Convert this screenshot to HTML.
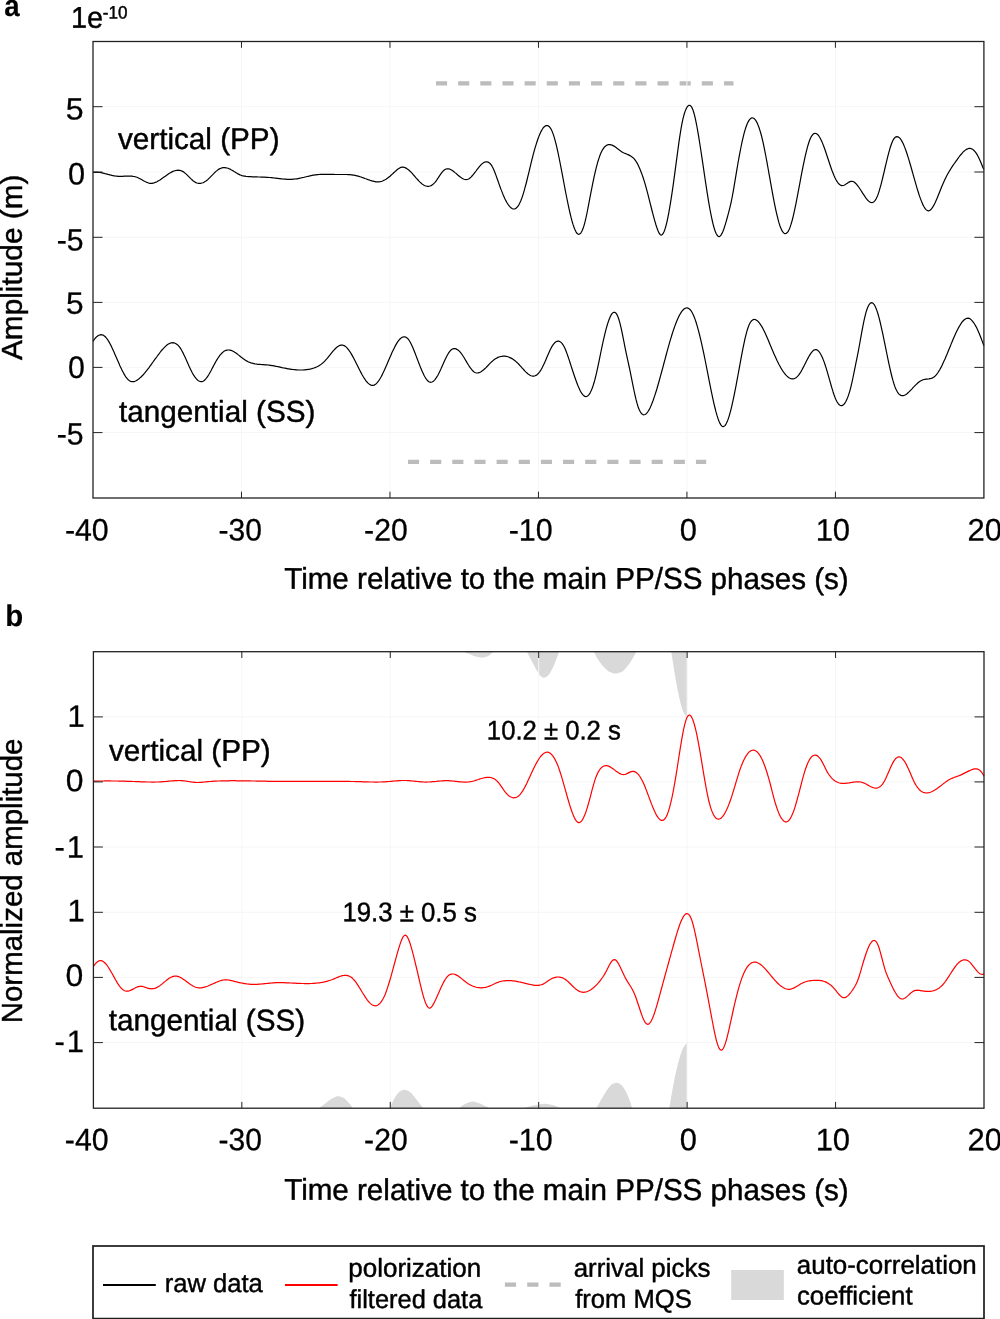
<!DOCTYPE html>
<html lang="en"><head><meta charset="utf-8"><title>Figure</title>
<style>html,body{margin:0;padding:0;background:#fff}svg{display:block;will-change:transform}</style></head>
<body>
<svg width="1000" height="1319" viewBox="0 0 1000 1319" font-family="Liberation Sans, Arial, Helvetica, sans-serif" fill="#000">
<rect width="1000" height="1319" fill="#fff"/>
<path d="M436 83.4 H733.5" stroke="#bcbcbc" stroke-width="4.3" stroke-dasharray="11.1 11.05" fill="none"/>
<path d="M408 461.8 H706.2" stroke="#bcbcbc" stroke-width="4.3" stroke-dasharray="11.1 11.05" fill="none"/>
<path d="M241.48 41.5 V498.0 M389.97 41.5 V498.0 M538.45 41.5 V498.0 M686.93 41.5 V498.0 M835.42 41.5 V498.0 M93.0 106.7 H983.9 M93.0 172.0 H983.9 M93.0 237.3 H983.9 M93.0 302.4 H983.9 M93.0 367.4 H983.9 M93.0 432.6 H983.9" stroke="#f6f6f6" stroke-width="1" fill="none"/>
<path d="M93.0 172.5 L94.0 172.4 L95.0 172.3 L96.0 172.2 L97.0 172.3 L98.0 172.3 L99.0 172.4 L100.0 172.5 L101.0 172.7 L102.0 172.9 L103.0 173.1 L104.0 173.3 L105.0 173.6 L106.0 173.8 L107.0 174.1 L108.0 174.4 L109.0 174.6 L110.0 174.9 L111.0 175.1 L112.0 175.4 L113.0 175.6 L114.0 175.8 L115.0 176.0 L116.0 176.1 L117.0 176.2 L118.0 176.3 L119.0 176.3 L120.0 176.3 L121.0 176.3 L122.0 176.3 L123.0 176.3 L124.0 176.2 L125.0 176.2 L126.0 176.1 L127.0 176.1 L128.0 176.1 L129.0 176.1 L130.0 176.1 L131.0 176.2 L132.0 176.2 L133.0 176.4 L134.0 176.5 L135.0 176.7 L136.0 177.0 L137.0 177.3 L138.0 177.7 L139.0 178.2 L140.0 178.7 L141.0 179.2 L142.0 179.8 L143.0 180.4 L144.0 181.0 L145.0 181.5 L146.0 182.0 L147.0 182.4 L148.0 182.8 L149.0 183.1 L150.0 183.3 L151.0 183.3 L152.0 183.3 L153.0 183.1 L154.0 182.9 L155.0 182.5 L156.0 182.1 L157.0 181.7 L158.0 181.1 L159.0 180.5 L160.0 179.9 L161.0 179.2 L162.0 178.5 L163.0 177.8 L164.0 177.1 L165.0 176.4 L166.0 175.7 L167.0 175.0 L168.0 174.3 L169.0 173.6 L170.0 173.0 L171.0 172.4 L172.0 171.9 L173.0 171.4 L174.0 171.0 L175.0 170.7 L176.0 170.5 L177.0 170.3 L178.0 170.2 L179.0 170.3 L180.0 170.4 L181.0 170.7 L182.0 171.1 L183.0 171.6 L184.0 172.3 L185.0 173.1 L186.0 173.9 L187.0 174.9 L188.0 175.9 L189.0 176.9 L190.0 177.9 L191.0 178.9 L192.0 179.8 L193.0 180.7 L194.0 181.4 L195.0 182.1 L196.0 182.6 L197.0 183.0 L198.0 183.3 L199.0 183.4 L200.0 183.4 L201.0 183.3 L202.0 183.0 L203.0 182.7 L204.0 182.2 L205.0 181.6 L206.0 181.0 L207.0 180.2 L208.0 179.4 L209.0 178.4 L210.0 177.4 L211.0 176.4 L212.0 175.4 L213.0 174.4 L214.0 173.3 L215.0 172.3 L216.0 171.4 L217.0 170.6 L218.0 169.8 L219.0 169.1 L220.0 168.6 L221.0 168.2 L222.0 167.9 L223.0 167.7 L224.0 167.6 L225.0 167.6 L226.0 167.8 L227.0 168.0 L228.0 168.3 L229.0 168.7 L230.0 169.1 L231.0 169.7 L232.0 170.2 L233.0 170.8 L234.0 171.5 L235.0 172.1 L236.0 172.7 L237.0 173.3 L238.0 173.9 L239.0 174.4 L240.0 174.9 L241.0 175.2 L242.0 175.6 L243.0 175.8 L244.0 176.1 L245.0 176.2 L246.0 176.4 L247.0 176.5 L248.0 176.6 L249.0 176.6 L250.0 176.7 L251.0 176.7 L252.0 176.8 L253.0 176.8 L254.0 176.9 L255.0 176.9 L256.0 176.9 L257.0 176.9 L258.0 177.0 L259.0 177.0 L260.0 177.0 L261.0 177.1 L262.0 177.1 L263.0 177.1 L264.0 177.2 L265.0 177.2 L266.0 177.3 L267.0 177.3 L268.0 177.4 L269.0 177.5 L270.0 177.5 L271.0 177.6 L272.0 177.7 L273.0 177.8 L274.0 178.0 L275.0 178.1 L276.0 178.2 L277.0 178.3 L278.0 178.4 L279.0 178.6 L280.0 178.7 L281.0 178.8 L282.0 178.9 L283.0 179.0 L284.0 179.1 L285.0 179.2 L286.0 179.2 L287.0 179.3 L288.0 179.3 L289.0 179.3 L290.0 179.3 L291.0 179.3 L292.0 179.3 L293.0 179.2 L294.0 179.2 L295.0 179.0 L296.0 178.9 L297.0 178.8 L298.0 178.6 L299.0 178.4 L300.0 178.2 L301.0 178.0 L302.0 177.7 L303.0 177.5 L304.0 177.3 L305.0 177.0 L306.0 176.8 L307.0 176.5 L308.0 176.3 L309.0 176.1 L310.0 175.8 L311.0 175.6 L312.0 175.4 L313.0 175.2 L314.0 175.1 L315.0 174.9 L316.0 174.8 L317.0 174.7 L318.0 174.6 L319.0 174.5 L320.0 174.4 L321.0 174.4 L322.0 174.3 L323.0 174.3 L324.0 174.3 L325.0 174.3 L326.0 174.3 L327.0 174.3 L328.0 174.3 L329.0 174.3 L330.0 174.4 L331.0 174.4 L332.0 174.4 L333.0 174.4 L334.0 174.4 L335.0 174.5 L336.0 174.5 L337.0 174.5 L338.0 174.5 L339.0 174.5 L340.0 174.5 L341.0 174.5 L342.0 174.5 L343.0 174.5 L344.0 174.5 L345.0 174.5 L346.0 174.5 L347.0 174.5 L348.0 174.6 L349.0 174.6 L350.0 174.7 L351.0 174.8 L352.0 174.9 L353.0 175.1 L354.0 175.2 L355.0 175.4 L356.0 175.6 L357.0 175.8 L358.0 176.1 L359.0 176.4 L360.0 176.7 L361.0 177.0 L362.0 177.4 L363.0 177.7 L364.0 178.1 L365.0 178.5 L366.0 178.8 L367.0 179.2 L368.0 179.6 L369.0 179.9 L370.0 180.3 L371.0 180.6 L372.0 180.9 L373.0 181.2 L374.0 181.4 L375.0 181.6 L376.0 181.8 L377.0 181.9 L378.0 181.9 L379.0 181.8 L380.0 181.7 L381.0 181.5 L382.0 181.2 L383.0 180.8 L384.0 180.3 L385.0 179.8 L386.0 179.2 L387.0 178.5 L388.0 177.8 L389.0 177.0 L390.0 176.2 L391.0 175.3 L392.0 174.4 L393.0 173.5 L394.0 172.5 L395.0 171.6 L396.0 170.7 L397.0 169.8 L398.0 169.1 L399.0 168.4 L400.0 167.8 L401.0 167.4 L402.0 167.2 L403.0 167.2 L404.0 167.3 L405.0 167.6 L406.0 168.1 L407.0 168.7 L408.0 169.4 L409.0 170.3 L410.0 171.2 L411.0 172.2 L412.0 173.2 L413.0 174.4 L414.0 175.5 L415.0 176.6 L416.0 177.8 L417.0 178.9 L418.0 180.0 L419.0 181.1 L420.0 182.1 L421.0 183.0 L422.0 183.9 L423.0 184.6 L424.0 185.2 L425.0 185.7 L426.0 186.0 L427.0 186.3 L428.0 186.3 L429.0 186.3 L430.0 186.0 L431.0 185.6 L432.0 185.1 L433.0 184.3 L434.0 183.4 L435.0 182.3 L436.0 181.1 L437.0 179.7 L438.0 178.2 L439.0 176.6 L440.0 175.1 L441.0 173.7 L442.0 172.3 L443.0 171.1 L444.0 170.2 L445.0 169.5 L446.0 169.0 L447.0 168.8 L448.0 168.8 L449.0 168.9 L450.0 169.2 L451.0 169.7 L452.0 170.3 L453.0 171.0 L454.0 171.7 L455.0 172.6 L456.0 173.4 L457.0 174.3 L458.0 175.2 L459.0 176.0 L460.0 176.8 L461.0 177.6 L462.0 178.2 L463.0 178.8 L464.0 179.2 L465.0 179.5 L466.0 179.6 L467.0 179.5 L468.0 179.2 L469.0 178.7 L470.0 178.0 L471.0 177.1 L472.0 176.0 L473.0 174.9 L474.0 173.6 L475.0 172.3 L476.0 171.0 L477.0 169.6 L478.0 168.3 L479.0 167.1 L480.0 165.9 L481.0 164.8 L482.0 163.9 L483.0 163.1 L484.0 162.4 L485.0 162.0 L486.0 161.8 L487.0 161.8 L488.0 162.1 L489.0 162.6 L490.0 163.5 L491.0 164.7 L492.0 166.2 L493.0 168.0 L494.0 170.2 L495.0 172.7 L496.0 175.4 L497.0 178.2 L498.0 181.0 L499.0 183.9 L500.0 186.7 L501.0 189.4 L502.0 191.9 L503.0 194.4 L504.0 196.7 L505.0 198.9 L506.0 200.9 L507.0 202.7 L508.0 204.3 L509.0 205.7 L510.0 206.9 L511.0 207.8 L512.0 208.5 L513.0 208.9 L514.0 209.0 L515.0 208.8 L516.0 208.2 L517.0 207.3 L518.0 206.1 L519.0 204.6 L520.0 202.6 L521.0 200.3 L522.0 197.6 L523.0 194.6 L524.0 191.3 L525.0 187.7 L526.0 184.0 L527.0 180.0 L528.0 175.9 L529.0 171.8 L530.0 167.6 L531.0 163.4 L532.0 159.3 L533.0 155.4 L534.0 151.6 L535.0 148.1 L536.0 144.8 L537.0 141.7 L538.0 138.8 L539.0 136.1 L540.0 133.8 L541.0 131.6 L542.0 129.8 L543.0 128.2 L544.0 127.0 L545.0 126.2 L546.0 125.6 L547.0 125.5 L548.0 125.7 L549.0 126.4 L550.0 127.5 L551.0 129.1 L552.0 131.1 L553.0 133.6 L554.0 136.6 L555.0 140.1 L556.0 143.9 L557.0 148.2 L558.0 152.7 L559.0 157.5 L560.0 162.5 L561.0 167.7 L562.0 172.9 L563.0 178.2 L564.0 183.5 L565.0 188.8 L566.0 194.0 L567.0 199.0 L568.0 203.9 L569.0 208.6 L570.0 213.0 L571.0 217.2 L572.0 221.0 L573.0 224.4 L574.0 227.3 L575.0 229.8 L576.0 231.8 L577.0 233.3 L578.0 234.1 L579.0 234.3 L580.0 233.8 L581.0 232.8 L582.0 231.0 L583.0 228.6 L584.0 225.6 L585.0 221.9 L586.0 217.7 L587.0 213.0 L588.0 207.9 L589.0 202.7 L590.0 197.4 L591.0 192.2 L592.0 187.1 L593.0 182.1 L594.0 177.3 L595.0 172.8 L596.0 168.6 L597.0 164.8 L598.0 161.2 L599.0 158.1 L600.0 155.3 L601.0 152.8 L602.0 150.8 L603.0 149.1 L604.0 147.6 L605.0 146.5 L606.0 145.7 L607.0 145.1 L608.0 144.7 L609.0 144.5 L610.0 144.6 L611.0 144.8 L612.0 145.1 L613.0 145.6 L614.0 146.1 L615.0 146.8 L616.0 147.5 L617.0 148.3 L618.0 149.1 L619.0 149.8 L620.0 150.6 L621.0 151.3 L622.0 151.9 L623.0 152.5 L624.0 153.0 L625.0 153.4 L626.0 153.8 L627.0 154.2 L628.0 154.6 L629.0 155.1 L630.0 155.6 L631.0 156.2 L632.0 156.9 L633.0 157.7 L634.0 158.7 L635.0 159.9 L636.0 161.3 L637.0 162.9 L638.0 164.8 L639.0 166.9 L640.0 169.2 L641.0 171.7 L642.0 174.4 L643.0 177.3 L644.0 180.4 L645.0 183.7 L646.0 187.2 L647.0 190.9 L648.0 194.7 L649.0 198.6 L650.0 202.6 L651.0 206.5 L652.0 210.5 L653.0 214.3 L654.0 218.1 L655.0 221.6 L656.0 225.0 L657.0 228.0 L658.0 230.7 L659.0 232.9 L660.0 234.4 L661.0 235.1 L662.0 234.8 L663.0 233.7 L664.0 231.8 L665.0 229.1 L666.0 225.6 L667.0 221.6 L668.0 216.9 L669.0 211.6 L670.0 205.9 L671.0 199.7 L672.0 193.2 L673.0 186.3 L674.0 179.1 L675.0 171.7 L676.0 164.1 L677.0 156.6 L678.0 149.1 L679.0 141.9 L680.0 135.1 L681.0 128.9 L682.0 123.4 L683.0 118.7 L684.0 114.8 L685.0 111.6 L686.0 109.1 L687.0 107.2 L688.0 105.9 L689.0 105.3 L690.0 105.4 L691.0 106.2 L692.0 107.7 L693.0 110.1 L694.0 113.3 L695.0 117.2 L696.0 121.8 L697.0 127.0 L698.0 132.6 L699.0 138.6 L700.0 145.0 L701.0 151.5 L702.0 158.2 L703.0 164.9 L704.0 171.7 L705.0 178.5 L706.0 185.1 L707.0 191.6 L708.0 197.8 L709.0 203.8 L710.0 209.5 L711.0 214.7 L712.0 219.5 L713.0 223.8 L714.0 227.5 L715.0 230.7 L716.0 233.2 L717.0 235.0 L718.0 236.2 L719.0 236.6 L720.0 236.2 L721.0 235.1 L722.0 233.4 L723.0 231.2 L724.0 228.5 L725.0 225.4 L726.0 222.1 L727.0 218.5 L728.0 214.9 L729.0 211.1 L730.0 207.1 L731.0 202.8 L732.0 198.0 L733.0 192.6 L734.0 186.9 L735.0 180.9 L736.0 174.9 L737.0 168.9 L738.0 163.0 L739.0 157.4 L740.0 152.1 L741.0 147.0 L742.0 142.2 L743.0 137.8 L744.0 133.7 L745.0 130.1 L746.0 127.0 L747.0 124.3 L748.0 122.1 L749.0 120.4 L750.0 119.1 L751.0 118.3 L752.0 117.9 L753.0 118.0 L754.0 118.5 L755.0 119.4 L756.0 120.8 L757.0 122.6 L758.0 124.9 L759.0 127.5 L760.0 130.6 L761.0 134.0 L762.0 137.9 L763.0 142.2 L764.0 146.9 L765.0 151.8 L766.0 157.0 L767.0 162.4 L768.0 168.0 L769.0 173.6 L770.0 179.2 L771.0 184.9 L772.0 190.4 L773.0 195.8 L774.0 201.1 L775.0 206.1 L776.0 210.8 L777.0 215.2 L778.0 219.2 L779.0 222.9 L780.0 226.0 L781.0 228.6 L782.0 230.7 L783.0 232.2 L784.0 233.2 L785.0 233.6 L786.0 233.5 L787.0 232.8 L788.0 231.6 L789.0 229.7 L790.0 227.4 L791.0 224.4 L792.0 221.0 L793.0 217.1 L794.0 212.8 L795.0 208.2 L796.0 203.3 L797.0 198.2 L798.0 192.9 L799.0 187.6 L800.0 182.3 L801.0 176.9 L802.0 171.7 L803.0 166.6 L804.0 161.8 L805.0 157.1 L806.0 152.8 L807.0 148.8 L808.0 145.2 L809.0 142.0 L810.0 139.3 L811.0 137.1 L812.0 135.5 L813.0 134.3 L814.0 133.6 L815.0 133.3 L816.0 133.5 L817.0 134.0 L818.0 134.9 L819.0 136.2 L820.0 137.8 L821.0 139.7 L822.0 141.9 L823.0 144.4 L824.0 147.0 L825.0 149.8 L826.0 152.8 L827.0 155.8 L828.0 158.8 L829.0 161.8 L830.0 164.8 L831.0 167.7 L832.0 170.5 L833.0 173.1 L834.0 175.5 L835.0 177.7 L836.0 179.7 L837.0 181.4 L838.0 182.8 L839.0 184.0 L840.0 184.8 L841.0 185.4 L842.0 185.6 L843.0 185.5 L844.0 185.2 L845.0 184.7 L846.0 184.1 L847.0 183.4 L848.0 182.7 L849.0 182.1 L850.0 181.6 L851.0 181.3 L852.0 181.3 L853.0 181.5 L854.0 182.0 L855.0 182.8 L856.0 183.7 L857.0 184.9 L858.0 186.1 L859.0 187.5 L860.0 189.0 L861.0 190.5 L862.0 192.1 L863.0 193.7 L864.0 195.2 L865.0 196.7 L866.0 198.1 L867.0 199.4 L868.0 200.5 L869.0 201.4 L870.0 202.1 L871.0 202.5 L872.0 202.6 L873.0 202.3 L874.0 201.7 L875.0 200.6 L876.0 199.1 L877.0 197.1 L878.0 194.6 L879.0 191.6 L880.0 188.2 L881.0 184.6 L882.0 180.6 L883.0 176.5 L884.0 172.3 L885.0 168.0 L886.0 163.8 L887.0 159.6 L888.0 155.6 L889.0 151.8 L890.0 148.3 L891.0 145.2 L892.0 142.5 L893.0 140.3 L894.0 138.6 L895.0 137.5 L896.0 136.8 L897.0 136.6 L898.0 136.8 L899.0 137.4 L900.0 138.4 L901.0 139.7 L902.0 141.4 L903.0 143.3 L904.0 145.6 L905.0 148.1 L906.0 150.8 L907.0 153.8 L908.0 156.9 L909.0 160.1 L910.0 163.5 L911.0 167.0 L912.0 170.5 L913.0 174.1 L914.0 177.7 L915.0 181.2 L916.0 184.7 L917.0 188.1 L918.0 191.3 L919.0 194.5 L920.0 197.4 L921.0 200.1 L922.0 202.6 L923.0 204.9 L924.0 206.8 L925.0 208.4 L926.0 209.6 L927.0 210.4 L928.0 210.8 L929.0 210.8 L930.0 210.3 L931.0 209.5 L932.0 208.2 L933.0 206.7 L934.0 204.9 L935.0 202.9 L936.0 200.7 L937.0 198.4 L938.0 196.0 L939.0 193.5 L940.0 191.0 L941.0 188.5 L942.0 186.1 L943.0 183.8 L944.0 181.5 L945.0 179.3 L946.0 177.3 L947.0 175.3 L948.0 173.5 L949.0 171.7 L950.0 170.1 L951.0 168.5 L952.0 166.9 L953.0 165.4 L954.0 164.0 L955.0 162.6 L956.0 161.2 L957.0 159.8 L958.0 158.4 L959.0 157.0 L960.0 155.7 L961.0 154.5 L962.0 153.3 L963.0 152.2 L964.0 151.2 L965.0 150.4 L966.0 149.6 L967.0 149.1 L968.0 148.7 L969.0 148.4 L970.0 148.4 L971.0 148.6 L972.0 149.0 L973.0 149.6 L974.0 150.5 L975.0 151.6 L976.0 152.9 L977.0 154.4 L978.0 156.2 L979.0 158.2 L980.0 160.4 L981.0 162.8 L982.0 165.3 L983.0 167.8 L983.9 169.6" stroke="#000" stroke-width="1.2" fill="none" stroke-linejoin="round"/>
<path d="M93.0 341.3 L94.0 339.8 L95.0 338.5 L96.0 337.4 L97.0 336.5 L98.0 335.7 L99.0 335.2 L100.0 334.8 L101.0 334.7 L102.0 334.8 L103.0 335.1 L104.0 335.7 L105.0 336.5 L106.0 337.5 L107.0 338.8 L108.0 340.2 L109.0 341.9 L110.0 343.7 L111.0 345.6 L112.0 347.7 L113.0 349.9 L114.0 352.1 L115.0 354.4 L116.0 356.7 L117.0 359.0 L118.0 361.3 L119.0 363.6 L120.0 365.9 L121.0 368.0 L122.0 370.1 L123.0 372.0 L124.0 373.9 L125.0 375.6 L126.0 377.1 L127.0 378.4 L128.0 379.5 L129.0 380.4 L130.0 381.1 L131.0 381.5 L132.0 381.7 L133.0 381.7 L134.0 381.6 L135.0 381.3 L136.0 380.8 L137.0 380.2 L138.0 379.6 L139.0 378.8 L140.0 377.9 L141.0 377.0 L142.0 376.0 L143.0 375.0 L144.0 373.8 L145.0 372.7 L146.0 371.4 L147.0 370.2 L148.0 368.9 L149.0 367.6 L150.0 366.2 L151.0 364.8 L152.0 363.4 L153.0 362.0 L154.0 360.6 L155.0 359.2 L156.0 357.8 L157.0 356.5 L158.0 355.1 L159.0 353.8 L160.0 352.5 L161.0 351.2 L162.0 350.0 L163.0 348.9 L164.0 347.8 L165.0 346.8 L166.0 345.9 L167.0 345.0 L168.0 344.3 L169.0 343.7 L170.0 343.3 L171.0 342.9 L172.0 342.8 L173.0 342.7 L174.0 342.9 L175.0 343.2 L176.0 343.7 L177.0 344.4 L178.0 345.2 L179.0 346.3 L180.0 347.7 L181.0 349.2 L182.0 351.0 L183.0 352.9 L184.0 354.9 L185.0 357.1 L186.0 359.3 L187.0 361.6 L188.0 363.8 L189.0 366.1 L190.0 368.2 L191.0 370.3 L192.0 372.3 L193.0 374.1 L194.0 375.7 L195.0 377.2 L196.0 378.4 L197.0 379.5 L198.0 380.4 L199.0 381.0 L200.0 381.4 L201.0 381.6 L202.0 381.6 L203.0 381.2 L204.0 380.7 L205.0 379.8 L206.0 378.7 L207.0 377.4 L208.0 375.9 L209.0 374.3 L210.0 372.5 L211.0 370.7 L212.0 368.8 L213.0 366.9 L214.0 365.0 L215.0 363.1 L216.0 361.3 L217.0 359.6 L218.0 358.0 L219.0 356.6 L220.0 355.2 L221.0 354.1 L222.0 353.0 L223.0 352.1 L224.0 351.3 L225.0 350.8 L226.0 350.3 L227.0 350.1 L228.0 350.0 L229.0 350.0 L230.0 350.2 L231.0 350.4 L232.0 350.8 L233.0 351.3 L234.0 351.8 L235.0 352.4 L236.0 353.1 L237.0 353.8 L238.0 354.6 L239.0 355.4 L240.0 356.2 L241.0 357.0 L242.0 357.7 L243.0 358.5 L244.0 359.2 L245.0 359.9 L246.0 360.6 L247.0 361.1 L248.0 361.7 L249.0 362.1 L250.0 362.5 L251.0 362.9 L252.0 363.2 L253.0 363.4 L254.0 363.7 L255.0 363.9 L256.0 364.0 L257.0 364.2 L258.0 364.3 L259.0 364.4 L260.0 364.4 L261.0 364.5 L262.0 364.6 L263.0 364.6 L264.0 364.7 L265.0 364.8 L266.0 364.8 L267.0 364.9 L268.0 365.0 L269.0 365.1 L270.0 365.3 L271.0 365.4 L272.0 365.6 L273.0 365.7 L274.0 365.9 L275.0 366.1 L276.0 366.3 L277.0 366.5 L278.0 366.7 L279.0 366.9 L280.0 367.1 L281.0 367.3 L282.0 367.6 L283.0 367.8 L284.0 368.0 L285.0 368.2 L286.0 368.4 L287.0 368.6 L288.0 368.8 L289.0 368.9 L290.0 369.1 L291.0 369.3 L292.0 369.4 L293.0 369.5 L294.0 369.6 L295.0 369.7 L296.0 369.8 L297.0 369.9 L298.0 370.0 L299.0 370.0 L300.0 370.0 L301.0 370.0 L302.0 370.0 L303.0 370.0 L304.0 369.9 L305.0 369.8 L306.0 369.7 L307.0 369.6 L308.0 369.4 L309.0 369.3 L310.0 369.1 L311.0 368.8 L312.0 368.6 L313.0 368.3 L314.0 368.0 L315.0 367.6 L316.0 367.2 L317.0 366.8 L318.0 366.3 L319.0 365.7 L320.0 365.1 L321.0 364.4 L322.0 363.6 L323.0 362.8 L324.0 361.9 L325.0 360.8 L326.0 359.7 L327.0 358.6 L328.0 357.4 L329.0 356.1 L330.0 354.9 L331.0 353.6 L332.0 352.4 L333.0 351.2 L334.0 350.1 L335.0 349.0 L336.0 348.0 L337.0 347.1 L338.0 346.4 L339.0 345.8 L340.0 345.4 L341.0 345.1 L342.0 345.1 L343.0 345.2 L344.0 345.6 L345.0 346.1 L346.0 346.9 L347.0 347.9 L348.0 349.1 L349.0 350.4 L350.0 351.8 L351.0 353.4 L352.0 355.1 L353.0 356.9 L354.0 358.8 L355.0 360.8 L356.0 362.8 L357.0 364.8 L358.0 366.8 L359.0 368.8 L360.0 370.7 L361.0 372.6 L362.0 374.5 L363.0 376.3 L364.0 377.9 L365.0 379.4 L366.0 380.8 L367.0 382.0 L368.0 383.1 L369.0 383.9 L370.0 384.6 L371.0 385.1 L372.0 385.3 L373.0 385.3 L374.0 385.1 L375.0 384.6 L376.0 383.9 L377.0 382.9 L378.0 381.7 L379.0 380.3 L380.0 378.7 L381.0 377.0 L382.0 375.1 L383.0 373.1 L384.0 370.9 L385.0 368.7 L386.0 366.5 L387.0 364.2 L388.0 361.8 L389.0 359.5 L390.0 357.2 L391.0 354.9 L392.0 352.6 L393.0 350.5 L394.0 348.4 L395.0 346.4 L396.0 344.6 L397.0 342.9 L398.0 341.4 L399.0 340.1 L400.0 339.0 L401.0 338.1 L402.0 337.4 L403.0 337.0 L404.0 336.8 L405.0 336.9 L406.0 337.2 L407.0 337.9 L408.0 338.9 L409.0 340.2 L410.0 341.8 L411.0 343.7 L412.0 345.8 L413.0 348.0 L414.0 350.5 L415.0 353.0 L416.0 355.6 L417.0 358.2 L418.0 360.9 L419.0 363.5 L420.0 366.1 L421.0 368.6 L422.0 370.9 L423.0 373.1 L424.0 375.2 L425.0 377.0 L426.0 378.7 L427.0 380.0 L428.0 381.1 L429.0 381.8 L430.0 382.2 L431.0 382.3 L432.0 382.0 L433.0 381.5 L434.0 380.6 L435.0 379.6 L436.0 378.2 L437.0 376.7 L438.0 375.0 L439.0 373.0 L440.0 370.9 L441.0 368.8 L442.0 366.5 L443.0 364.3 L444.0 362.0 L445.0 359.8 L446.0 357.7 L447.0 355.7 L448.0 354.0 L449.0 352.4 L450.0 351.1 L451.0 350.0 L452.0 349.3 L453.0 348.8 L454.0 348.6 L455.0 348.6 L456.0 348.9 L457.0 349.4 L458.0 350.0 L459.0 350.9 L460.0 351.9 L461.0 353.1 L462.0 354.5 L463.0 356.0 L464.0 357.5 L465.0 359.2 L466.0 360.9 L467.0 362.6 L468.0 364.2 L469.0 365.8 L470.0 367.3 L471.0 368.7 L472.0 370.0 L473.0 371.0 L474.0 371.9 L475.0 372.5 L476.0 372.8 L477.0 373.0 L478.0 372.9 L479.0 372.7 L480.0 372.3 L481.0 371.8 L482.0 371.1 L483.0 370.3 L484.0 369.5 L485.0 368.5 L486.0 367.6 L487.0 366.5 L488.0 365.5 L489.0 364.4 L490.0 363.4 L491.0 362.4 L492.0 361.5 L493.0 360.6 L494.0 359.8 L495.0 359.1 L496.0 358.5 L497.0 357.9 L498.0 357.4 L499.0 357.0 L500.0 356.7 L501.0 356.5 L502.0 356.3 L503.0 356.2 L504.0 356.2 L505.0 356.2 L506.0 356.3 L507.0 356.5 L508.0 356.8 L509.0 357.2 L510.0 357.6 L511.0 358.1 L512.0 358.6 L513.0 359.3 L514.0 360.0 L515.0 360.7 L516.0 361.6 L517.0 362.5 L518.0 363.4 L519.0 364.5 L520.0 365.6 L521.0 366.7 L522.0 367.8 L523.0 368.9 L524.0 370.0 L525.0 371.1 L526.0 372.1 L527.0 373.0 L528.0 373.9 L529.0 374.6 L530.0 375.2 L531.0 375.7 L532.0 376.0 L533.0 376.2 L534.0 376.1 L535.0 375.8 L536.0 375.4 L537.0 374.7 L538.0 373.8 L539.0 372.7 L540.0 371.3 L541.0 369.8 L542.0 368.1 L543.0 366.1 L544.0 364.0 L545.0 361.8 L546.0 359.4 L547.0 357.1 L548.0 354.7 L549.0 352.4 L550.0 350.3 L551.0 348.2 L552.0 346.4 L553.0 344.9 L554.0 343.6 L555.0 342.5 L556.0 341.8 L557.0 341.3 L558.0 341.1 L559.0 341.2 L560.0 341.6 L561.0 342.4 L562.0 343.4 L563.0 344.8 L564.0 346.5 L565.0 348.6 L566.0 351.0 L567.0 353.6 L568.0 356.5 L569.0 359.4 L570.0 362.5 L571.0 365.6 L572.0 368.7 L573.0 371.8 L574.0 374.8 L575.0 377.7 L576.0 380.5 L577.0 383.2 L578.0 385.8 L579.0 388.1 L580.0 390.2 L581.0 392.1 L582.0 393.7 L583.0 394.9 L584.0 395.9 L585.0 396.4 L586.0 396.6 L587.0 396.3 L588.0 395.7 L589.0 394.6 L590.0 393.1 L591.0 391.1 L592.0 388.8 L593.0 386.0 L594.0 382.8 L595.0 379.2 L596.0 375.1 L597.0 370.8 L598.0 366.1 L599.0 361.3 L600.0 356.4 L601.0 351.5 L602.0 346.7 L603.0 342.0 L604.0 337.6 L605.0 333.4 L606.0 329.4 L607.0 325.8 L608.0 322.6 L609.0 319.7 L610.0 317.2 L611.0 315.2 L612.0 313.7 L613.0 312.7 L614.0 312.3 L615.0 312.4 L616.0 313.2 L617.0 314.7 L618.0 316.9 L619.0 319.8 L620.0 323.4 L621.0 327.6 L622.0 332.2 L623.0 337.1 L624.0 342.2 L625.0 347.3 L626.0 352.2 L627.0 356.9 L628.0 361.4 L629.0 366.0 L630.0 370.7 L631.0 375.7 L632.0 380.7 L633.0 385.7 L634.0 390.5 L635.0 395.1 L636.0 399.4 L637.0 403.2 L638.0 406.5 L639.0 409.2 L640.0 411.3 L641.0 412.9 L642.0 414.0 L643.0 414.6 L644.0 414.8 L645.0 414.5 L646.0 413.9 L647.0 412.9 L648.0 411.5 L649.0 409.9 L650.0 407.9 L651.0 405.7 L652.0 403.3 L653.0 400.7 L654.0 397.9 L655.0 394.9 L656.0 391.7 L657.0 388.5 L658.0 385.0 L659.0 381.5 L660.0 377.9 L661.0 374.2 L662.0 370.5 L663.0 366.8 L664.0 363.0 L665.0 359.3 L666.0 355.5 L667.0 351.8 L668.0 348.2 L669.0 344.6 L670.0 341.1 L671.0 337.8 L672.0 334.5 L673.0 331.4 L674.0 328.5 L675.0 325.6 L676.0 323.0 L677.0 320.5 L678.0 318.2 L679.0 316.1 L680.0 314.2 L681.0 312.6 L682.0 311.1 L683.0 310.0 L684.0 309.0 L685.0 308.4 L686.0 308.0 L687.0 307.9 L688.0 308.1 L689.0 308.7 L690.0 309.5 L691.0 310.7 L692.0 312.3 L693.0 314.2 L694.0 316.5 L695.0 319.1 L696.0 322.0 L697.0 325.3 L698.0 328.8 L699.0 332.6 L700.0 336.6 L701.0 340.9 L702.0 345.3 L703.0 349.9 L704.0 354.7 L705.0 359.5 L706.0 364.5 L707.0 369.6 L708.0 374.7 L709.0 379.8 L710.0 384.9 L711.0 389.9 L712.0 394.7 L713.0 399.4 L714.0 403.8 L715.0 408.0 L716.0 411.9 L717.0 415.4 L718.0 418.6 L719.0 421.2 L720.0 423.4 L721.0 425.1 L722.0 426.2 L723.0 426.6 L724.0 426.4 L725.0 425.6 L726.0 424.1 L727.0 422.1 L728.0 419.6 L729.0 416.6 L730.0 413.1 L731.0 409.3 L732.0 405.1 L733.0 400.7 L734.0 395.9 L735.0 390.9 L736.0 385.8 L737.0 380.4 L738.0 375.0 L739.0 369.6 L740.0 364.1 L741.0 358.6 L742.0 353.3 L743.0 348.2 L744.0 343.3 L745.0 338.7 L746.0 334.6 L747.0 330.9 L748.0 327.7 L749.0 325.1 L750.0 323.0 L751.0 321.5 L752.0 320.4 L753.0 319.7 L754.0 319.4 L755.0 319.5 L756.0 319.9 L757.0 320.5 L758.0 321.4 L759.0 322.5 L760.0 323.8 L761.0 325.3 L762.0 326.9 L763.0 328.8 L764.0 330.7 L765.0 332.8 L766.0 335.0 L767.0 337.3 L768.0 339.6 L769.0 342.0 L770.0 344.4 L771.0 346.8 L772.0 349.2 L773.0 351.6 L774.0 353.9 L775.0 356.1 L776.0 358.3 L777.0 360.5 L778.0 362.5 L779.0 364.5 L780.0 366.3 L781.0 368.1 L782.0 369.7 L783.0 371.3 L784.0 372.7 L785.0 374.0 L786.0 375.1 L787.0 376.1 L788.0 377.0 L789.0 377.7 L790.0 378.2 L791.0 378.6 L792.0 378.8 L793.0 378.8 L794.0 378.6 L795.0 378.3 L796.0 377.7 L797.0 376.9 L798.0 375.9 L799.0 374.7 L800.0 373.2 L801.0 371.6 L802.0 369.8 L803.0 367.9 L804.0 366.0 L805.0 364.0 L806.0 362.0 L807.0 360.0 L808.0 358.1 L809.0 356.3 L810.0 354.6 L811.0 353.1 L812.0 351.8 L813.0 350.8 L814.0 350.1 L815.0 349.7 L816.0 349.6 L817.0 349.9 L818.0 350.6 L819.0 351.7 L820.0 353.0 L821.0 354.7 L822.0 356.8 L823.0 359.1 L824.0 361.6 L825.0 364.5 L826.0 367.6 L827.0 370.9 L828.0 374.3 L829.0 377.9 L830.0 381.4 L831.0 385.0 L832.0 388.4 L833.0 391.7 L834.0 394.7 L835.0 397.4 L836.0 399.8 L837.0 401.7 L838.0 403.3 L839.0 404.5 L840.0 405.2 L841.0 405.6 L842.0 405.6 L843.0 405.1 L844.0 404.2 L845.0 403.0 L846.0 401.3 L847.0 399.1 L848.0 396.6 L849.0 393.6 L850.0 390.3 L851.0 386.4 L852.0 382.2 L853.0 377.5 L854.0 372.6 L855.0 367.6 L856.0 362.7 L857.0 357.8 L858.0 352.8 L859.0 347.5 L860.0 342.0 L861.0 336.4 L862.0 330.9 L863.0 325.7 L864.0 320.7 L865.0 316.3 L866.0 312.4 L867.0 309.2 L868.0 306.7 L869.0 304.8 L870.0 303.5 L871.0 302.8 L872.0 302.7 L873.0 303.3 L874.0 304.3 L875.0 306.0 L876.0 308.2 L877.0 310.9 L878.0 314.0 L879.0 317.6 L880.0 321.5 L881.0 325.8 L882.0 330.3 L883.0 334.9 L884.0 339.8 L885.0 344.7 L886.0 349.6 L887.0 354.5 L888.0 359.4 L889.0 364.1 L890.0 368.7 L891.0 373.0 L892.0 377.0 L893.0 380.7 L894.0 384.0 L895.0 386.9 L896.0 389.3 L897.0 391.3 L898.0 392.9 L899.0 394.1 L900.0 394.9 L901.0 395.4 L902.0 395.7 L903.0 395.7 L904.0 395.4 L905.0 395.0 L906.0 394.4 L907.0 393.7 L908.0 392.8 L909.0 391.9 L910.0 390.8 L911.0 389.8 L912.0 388.8 L913.0 387.7 L914.0 386.7 L915.0 385.6 L916.0 384.6 L917.0 383.7 L918.0 382.8 L919.0 382.0 L920.0 381.3 L921.0 380.7 L922.0 380.2 L923.0 379.8 L924.0 379.5 L925.0 379.3 L926.0 379.2 L927.0 379.1 L928.0 379.0 L929.0 378.9 L930.0 378.7 L931.0 378.5 L932.0 378.1 L933.0 377.6 L934.0 377.0 L935.0 376.2 L936.0 375.1 L937.0 373.9 L938.0 372.5 L939.0 370.9 L940.0 369.2 L941.0 367.4 L942.0 365.4 L943.0 363.3 L944.0 361.1 L945.0 358.9 L946.0 356.5 L947.0 354.2 L948.0 351.7 L949.0 349.3 L950.0 346.9 L951.0 344.4 L952.0 342.0 L953.0 339.6 L954.0 337.3 L955.0 335.0 L956.0 332.8 L957.0 330.7 L958.0 328.7 L959.0 326.9 L960.0 325.2 L961.0 323.6 L962.0 322.2 L963.0 321.0 L964.0 320.0 L965.0 319.2 L966.0 318.6 L967.0 318.3 L968.0 318.2 L969.0 318.4 L970.0 318.8 L971.0 319.6 L972.0 320.6 L973.0 321.8 L974.0 323.2 L975.0 324.8 L976.0 326.6 L977.0 328.6 L978.0 330.8 L979.0 333.0 L980.0 335.5 L981.0 338.0 L982.0 340.6 L983.0 343.3 L983.9 345.8" stroke="#000" stroke-width="1.2" fill="none" stroke-linejoin="round"/>
<path d="M241.48 41.5 v6.3 M241.48 498.0 v-6.3 M389.97 41.5 v6.3 M389.97 498.0 v-6.3 M538.45 41.5 v6.3 M538.45 498.0 v-6.3 M686.93 41.5 v6.3 M686.93 498.0 v-6.3 M835.42 41.5 v6.3 M835.42 498.0 v-6.3 M93.0 106.7 h9.5 M983.9 106.7 h-9.5 M93.0 172.0 h9.5 M983.9 172.0 h-9.5 M93.0 237.3 h9.5 M983.9 237.3 h-9.5 M93.0 302.4 h9.5 M983.9 302.4 h-9.5 M93.0 367.4 h9.5 M983.9 367.4 h-9.5 M93.0 432.6 h9.5 M983.9 432.6 h-9.5" stroke="#222" stroke-width="1" fill="none"/>
<rect x="93.0" y="41.5" width="890.90" height="456.50" fill="none" stroke="#222" stroke-width="1.3"/>
<clipPath id="cb"><rect x="93.4" y="651.7" width="890.6" height="456.5"/></clipPath>
<path d="M459.8 650.5 L460.3 650.7 L460.8 650.9 L461.3 651.1 L461.8 651.2 L462.3 651.4 L462.8 651.6 L463.3 651.8 L463.8 652.0 L464.3 652.1 L464.8 652.3 L465.3 652.5 L465.8 652.7 L466.3 652.9 L466.8 653.0 L467.3 653.2 L467.8 653.4 L468.3 653.6 L468.8 653.8 L469.3 654.0 L469.8 654.2 L470.3 654.4 L470.8 654.6 L471.3 654.8 L471.8 655.0 L472.3 655.3 L472.8 655.5 L473.3 655.7 L473.8 655.9 L474.3 656.1 L474.8 656.2 L475.3 656.4 L475.8 656.5 L476.3 656.6 L476.8 656.8 L477.3 656.9 L477.8 657.0 L478.3 657.1 L478.8 657.2 L479.3 657.3 L479.8 657.4 L480.3 657.5 L480.8 657.5 L481.3 657.6 L481.8 657.6 L482.3 657.6 L482.8 657.6 L483.3 657.5 L483.8 657.4 L484.3 657.3 L484.8 657.2 L485.3 657.1 L485.8 656.9 L486.3 656.8 L486.8 656.6 L487.3 656.4 L487.8 656.2 L488.3 656.0 L488.8 655.7 L489.3 655.3 L489.8 655.0 L490.3 654.6 L490.8 654.2 L491.3 653.7 L491.8 653.3 L492.3 652.8 L492.8 652.2 L493.3 651.7 L493.8 651.2 L494.3 650.7 L494.8 650.2 L495.3 649.7 L495.8 649.2 L496.3 648.7 L496.4 648.6 L496.4 641.6 L459.8 641.6 Z M523.8 645.8 L524.3 646.8 L524.8 647.8 L525.3 648.7 L525.8 649.7 L526.3 650.6 L526.8 651.6 L527.3 652.6 L527.8 653.5 L528.3 654.5 L528.8 655.5 L529.3 656.4 L529.8 657.4 L530.3 658.3 L530.8 659.3 L531.3 660.2 L531.8 661.2 L532.3 662.2 L532.8 663.1 L533.3 664.1 L533.8 665.1 L534.3 666.0 L534.8 667.0 L535.3 667.9 L535.8 668.8 L536.3 669.7 L536.8 670.5 L537.3 671.4 L537.8 672.3 L538.3 673.1 L538.8 673.9 L539.3 674.6 L539.8 675.2 L540.3 675.7 L540.8 676.1 L541.3 676.6 L541.8 676.9 L542.3 677.3 L542.8 677.6 L543.3 677.7 L543.8 677.8 L544.3 677.8 L544.8 677.6 L545.3 677.4 L545.8 677.2 L546.3 676.9 L546.8 676.5 L547.3 676.1 L547.8 675.8 L548.3 675.3 L548.8 674.8 L549.3 674.1 L549.8 673.4 L550.3 672.5 L550.8 671.6 L551.3 670.7 L551.8 669.8 L552.3 668.8 L552.8 667.8 L553.3 666.7 L553.8 665.5 L554.3 664.3 L554.8 663.1 L555.3 661.8 L555.8 660.6 L556.3 659.3 L556.8 658.0 L557.3 656.7 L557.8 655.4 L558.3 654.0 L558.8 652.7 L559.3 651.3 L559.8 650.0 L560.3 648.7 L560.8 647.4 L561.3 646.0 L561.8 644.7 L562.2 643.7 L562.2 641.6 L523.8 641.6 Z M590.8 646.0 L591.3 647.0 L591.8 647.9 L592.3 648.8 L592.8 649.7 L593.3 650.7 L593.8 651.6 L594.3 652.5 L594.8 653.5 L595.3 654.5 L595.8 655.5 L596.3 656.4 L596.8 657.4 L597.3 658.3 L597.8 659.1 L598.3 659.9 L598.8 660.6 L599.3 661.4 L599.8 662.1 L600.3 662.8 L600.8 663.5 L601.3 664.1 L601.8 664.7 L602.3 665.3 L602.8 665.9 L603.3 666.5 L603.8 667.0 L604.3 667.5 L604.8 668.0 L605.3 668.5 L605.8 668.9 L606.3 669.4 L606.8 669.9 L607.3 670.3 L607.8 670.7 L608.3 671.0 L608.8 671.4 L609.3 671.7 L609.8 671.9 L610.3 672.1 L610.8 672.3 L611.3 672.6 L611.8 672.8 L612.3 672.9 L612.8 673.1 L613.3 673.3 L613.8 673.4 L614.3 673.5 L614.8 673.6 L615.3 673.6 L615.8 673.6 L616.3 673.6 L616.8 673.5 L617.3 673.4 L617.8 673.3 L618.3 673.1 L618.8 673.0 L619.3 672.8 L619.8 672.6 L620.3 672.4 L620.8 672.2 L621.3 672.0 L621.8 671.8 L622.3 671.5 L622.8 671.2 L623.3 670.7 L623.8 670.3 L624.3 669.8 L624.8 669.2 L625.3 668.7 L625.8 668.1 L626.3 667.5 L626.8 666.9 L627.3 666.3 L627.8 665.6 L628.3 665.0 L628.8 664.4 L629.3 663.7 L629.8 663.0 L630.3 662.2 L630.8 661.4 L631.3 660.7 L631.8 659.8 L632.3 659.0 L632.8 658.2 L633.3 657.3 L633.8 656.5 L634.3 655.5 L634.8 654.6 L635.3 653.7 L635.8 652.7 L636.3 651.8 L636.8 650.9 L637.3 650.0 L637.8 649.0 L638.3 648.1 L638.8 647.2 L639.3 646.3 L639.4 646.1 L639.4 641.6 L590.8 641.6 Z M668.2 632.7 L668.7 635.8 L669.2 639.0 L669.7 642.1 L670.2 645.3 L670.7 648.4 L671.2 651.6 L671.7 654.8 L672.2 658.0 L672.7 661.1 L673.2 664.3 L673.7 667.4 L674.2 670.4 L674.7 673.5 L675.2 676.4 L675.7 679.4 L676.2 682.2 L676.7 684.9 L677.2 687.7 L677.7 690.3 L678.2 692.8 L678.7 695.1 L679.2 697.5 L679.7 699.7 L680.2 701.8 L680.7 703.7 L681.2 705.5 L681.7 707.2 L682.2 708.8 L682.7 710.2 L683.2 711.5 L683.7 712.6 L684.2 713.6 L684.7 714.5 L685.2 715.2 L685.7 715.6 L686.2 716.0 L686.7 716.2 L687.2 716.3 L687.2 641.6 L668.2 641.6 Z M316.6 1110.0 L317.1 1109.6 L317.6 1109.2 L318.1 1108.8 L318.6 1108.5 L319.1 1108.1 L319.6 1107.7 L320.1 1107.3 L320.6 1106.9 L321.1 1106.6 L321.6 1106.2 L322.1 1105.8 L322.6 1105.4 L323.1 1105.1 L323.6 1104.7 L324.1 1104.3 L324.6 1103.9 L325.1 1103.6 L325.6 1103.2 L326.1 1102.8 L326.6 1102.4 L327.1 1102.0 L327.6 1101.6 L328.1 1101.2 L328.6 1100.8 L329.1 1100.4 L329.6 1100.1 L330.1 1099.7 L330.6 1099.4 L331.1 1099.1 L331.6 1098.8 L332.1 1098.5 L332.6 1098.3 L333.1 1098.0 L333.6 1097.7 L334.1 1097.5 L334.6 1097.2 L335.1 1097.0 L335.6 1096.8 L336.1 1096.6 L336.6 1096.4 L337.1 1096.3 L337.6 1096.2 L338.1 1096.2 L338.6 1096.2 L339.1 1096.3 L339.6 1096.4 L340.1 1096.5 L340.6 1096.7 L341.1 1096.8 L341.6 1097.1 L342.1 1097.3 L342.6 1097.5 L343.1 1097.8 L343.6 1098.1 L344.1 1098.3 L344.6 1098.6 L345.1 1099.0 L345.6 1099.4 L346.1 1099.9 L346.6 1100.5 L347.1 1101.0 L347.6 1101.6 L348.1 1102.2 L348.6 1102.7 L349.1 1103.3 L349.6 1103.9 L350.1 1104.5 L350.6 1105.1 L351.1 1105.8 L351.6 1106.4 L352.1 1107.1 L352.6 1107.7 L353.1 1108.3 L353.6 1109.0 L354.1 1109.6 L354.6 1110.2 L355.1 1110.8 L355.6 1111.5 L355.6 1117.7 L316.6 1117.7 Z M387.2 1114.6 L387.7 1113.4 L388.2 1112.3 L388.7 1111.1 L389.2 1110.0 L389.7 1108.8 L390.2 1107.7 L390.7 1106.5 L391.2 1105.3 L391.7 1104.1 L392.2 1102.8 L392.7 1101.7 L393.2 1100.6 L393.7 1099.5 L394.2 1098.7 L394.7 1097.8 L395.2 1097.0 L395.7 1096.2 L396.2 1095.4 L396.7 1094.7 L397.2 1094.0 L397.7 1093.4 L398.2 1092.9 L398.7 1092.5 L399.2 1092.1 L399.7 1091.8 L400.2 1091.4 L400.7 1091.1 L401.2 1090.8 L401.7 1090.5 L402.2 1090.3 L402.7 1090.1 L403.2 1089.9 L403.7 1089.8 L404.2 1089.8 L404.7 1089.8 L405.2 1089.9 L405.7 1090.0 L406.2 1090.2 L406.7 1090.3 L407.2 1090.6 L407.7 1090.8 L408.2 1091.0 L408.7 1091.3 L409.2 1091.6 L409.7 1091.9 L410.2 1092.2 L410.7 1092.6 L411.2 1093.1 L411.7 1093.6 L412.2 1094.1 L412.7 1094.7 L413.2 1095.4 L413.7 1096.0 L414.2 1096.6 L414.7 1097.3 L415.2 1097.9 L415.7 1098.5 L416.2 1099.1 L416.7 1099.8 L417.2 1100.4 L417.7 1101.0 L418.2 1101.7 L418.7 1102.4 L419.2 1103.0 L419.7 1103.7 L420.2 1104.3 L420.7 1105.0 L421.2 1105.6 L421.7 1106.3 L422.2 1106.9 L422.7 1107.6 L423.2 1108.2 L423.7 1108.9 L424.2 1109.5 L424.7 1110.2 L425.2 1110.8 L425.7 1111.5 L425.8 1111.6 L425.8 1117.7 L387.2 1117.7 Z M456.6 1109.8 L457.1 1109.4 L457.6 1109.1 L458.1 1108.7 L458.6 1108.4 L459.1 1108.0 L459.6 1107.7 L460.1 1107.3 L460.6 1107.0 L461.1 1106.6 L461.6 1106.2 L462.1 1105.8 L462.6 1105.5 L463.1 1105.1 L463.6 1104.8 L464.1 1104.5 L464.6 1104.2 L465.1 1104.0 L465.6 1103.7 L466.1 1103.5 L466.6 1103.3 L467.1 1103.1 L467.6 1102.9 L468.1 1102.7 L468.6 1102.5 L469.1 1102.3 L469.6 1102.1 L470.1 1102.0 L470.6 1101.9 L471.1 1101.8 L471.6 1101.7 L472.1 1101.6 L472.6 1101.6 L473.1 1101.6 L473.6 1101.6 L474.1 1101.7 L474.6 1101.8 L475.1 1101.9 L475.6 1102.0 L476.1 1102.2 L476.6 1102.3 L477.1 1102.5 L477.6 1102.7 L478.1 1102.9 L478.6 1103.1 L479.1 1103.3 L479.6 1103.5 L480.1 1103.6 L480.6 1103.8 L481.1 1104.0 L481.6 1104.3 L482.1 1104.5 L482.6 1104.8 L483.1 1105.0 L483.6 1105.3 L484.1 1105.5 L484.6 1105.8 L485.1 1106.0 L485.6 1106.3 L486.1 1106.5 L486.6 1106.8 L487.1 1107.0 L487.6 1107.3 L488.1 1107.5 L488.6 1107.8 L489.1 1108.1 L489.6 1108.3 L490.1 1108.6 L490.6 1108.8 L491.1 1109.1 L491.4 1109.2 L491.4 1117.7 L456.6 1117.7 Z M522.0 1108.5 L522.5 1108.3 L523.0 1108.2 L523.5 1108.1 L524.0 1108.0 L524.5 1107.8 L525.0 1107.7 L525.5 1107.6 L526.0 1107.4 L526.5 1107.3 L527.0 1107.2 L527.5 1107.0 L528.0 1106.9 L528.5 1106.8 L529.0 1106.6 L529.5 1106.5 L530.0 1106.3 L530.5 1106.2 L531.0 1106.1 L531.5 1106.0 L532.0 1105.8 L532.5 1105.7 L533.0 1105.6 L533.5 1105.5 L534.0 1105.4 L534.5 1105.3 L535.0 1105.2 L535.5 1105.1 L536.0 1105.0 L536.5 1104.9 L537.0 1104.8 L537.5 1104.7 L538.0 1104.6 L538.5 1104.5 L539.0 1104.4 L539.5 1104.3 L540.0 1104.2 L540.5 1104.2 L541.0 1104.1 L541.5 1104.0 L542.0 1104.0 L542.5 1103.9 L543.0 1103.9 L543.5 1103.8 L544.0 1103.8 L544.5 1103.8 L545.0 1103.8 L545.5 1103.8 L546.0 1103.8 L546.5 1103.9 L547.0 1103.9 L547.5 1104.0 L548.0 1104.1 L548.5 1104.2 L549.0 1104.3 L549.5 1104.4 L550.0 1104.5 L550.5 1104.6 L551.0 1104.7 L551.5 1104.8 L552.0 1105.0 L552.5 1105.1 L553.0 1105.2 L553.5 1105.3 L554.0 1105.5 L554.5 1105.6 L555.0 1105.8 L555.5 1106.0 L556.0 1106.2 L556.5 1106.4 L557.0 1106.6 L557.5 1106.8 L558.0 1107.0 L558.5 1107.2 L559.0 1107.4 L559.5 1107.6 L560.0 1107.8 L560.5 1108.0 L561.0 1108.1 L561.5 1108.3 L562.0 1108.5 L562.5 1108.7 L562.8 1108.8 L562.8 1117.7 L522.0 1117.7 Z M593.6 1113.0 L594.1 1112.1 L594.6 1111.2 L595.1 1110.3 L595.6 1109.5 L596.1 1108.6 L596.6 1107.7 L597.1 1106.8 L597.6 1105.9 L598.1 1105.1 L598.6 1104.2 L599.1 1103.3 L599.6 1102.4 L600.1 1101.5 L600.6 1100.6 L601.1 1099.8 L601.6 1098.9 L602.1 1098.1 L602.6 1097.2 L603.1 1096.4 L603.6 1095.5 L604.1 1094.7 L604.6 1093.8 L605.1 1093.0 L605.6 1092.2 L606.1 1091.4 L606.6 1090.6 L607.1 1089.9 L607.6 1089.3 L608.1 1088.6 L608.6 1088.0 L609.1 1087.3 L609.6 1086.7 L610.1 1086.1 L610.6 1085.6 L611.1 1085.1 L611.6 1084.6 L612.1 1084.3 L612.6 1084.0 L613.1 1083.8 L613.6 1083.6 L614.1 1083.4 L614.6 1083.2 L615.1 1083.0 L615.6 1082.9 L616.1 1082.8 L616.6 1082.8 L617.1 1082.8 L617.6 1082.9 L618.1 1083.1 L618.6 1083.3 L619.1 1083.5 L619.6 1083.8 L620.1 1084.2 L620.6 1084.5 L621.1 1084.9 L621.6 1085.3 L622.1 1085.8 L622.6 1086.4 L623.1 1087.0 L623.6 1087.8 L624.1 1088.5 L624.6 1089.3 L625.1 1090.2 L625.6 1091.1 L626.1 1091.9 L626.6 1092.9 L627.1 1094.0 L627.6 1095.2 L628.1 1096.4 L628.6 1097.7 L629.1 1099.0 L629.6 1100.3 L630.1 1101.8 L630.6 1103.3 L631.1 1104.9 L631.6 1106.5 L632.1 1108.0 L632.6 1109.5 L633.1 1111.0 L633.6 1112.6 L634.1 1114.1 L634.6 1115.6 L635.0 1116.8 L635.0 1117.7 L593.6 1117.7 Z M666.4 1125.2 L666.9 1122.3 L667.4 1119.4 L667.9 1116.5 L668.4 1113.5 L668.9 1110.6 L669.4 1107.7 L669.9 1104.7 L670.4 1101.8 L670.9 1098.8 L671.4 1095.8 L671.9 1092.9 L672.4 1090.1 L672.9 1087.4 L673.4 1084.7 L673.9 1082.1 L674.4 1079.5 L674.9 1077.0 L675.4 1074.6 L675.9 1072.3 L676.4 1070.1 L676.9 1068.0 L677.4 1065.9 L677.9 1064.0 L678.4 1062.0 L678.9 1060.2 L679.4 1058.5 L679.9 1056.9 L680.4 1055.3 L680.9 1053.8 L681.4 1052.3 L681.9 1050.9 L682.4 1049.7 L682.9 1048.5 L683.4 1047.6 L683.9 1046.8 L684.4 1046.0 L684.9 1045.2 L685.4 1044.6 L685.9 1044.0 L686.4 1043.5 L686.9 1043.1 L687.1 1043.0 L687.1 1117.7 L666.4 1117.7 Z" fill="#d9d9d9" clip-path="url(#cb)"/>
<path d="M241.83 651.7 V1108.2 M390.27 651.7 V1108.2 M538.70 651.7 V1108.2 M687.13 651.7 V1108.2 M835.57 651.7 V1108.2 M93.4 716.9 H984.0 M93.4 781.9 H984.0 M93.4 847.0 H984.0 M93.4 912.3 H984.0 M93.4 977.4 H984.0 M93.4 1042.6 H984.0" stroke="#f6f6f6" stroke-width="1" fill="none"/>
<path d="M93.5 781.2 L94.5 781.2 L95.5 781.1 L96.5 781.1 L97.5 781.1 L98.5 781.0 L99.5 781.0 L100.5 781.0 L101.5 781.0 L102.5 781.0 L103.5 781.0 L104.5 780.9 L105.5 780.9 L106.5 780.9 L107.5 780.9 L108.5 780.9 L109.5 780.9 L110.5 780.9 L111.5 781.0 L112.5 781.0 L113.5 781.0 L114.5 781.0 L115.5 781.0 L116.5 781.0 L117.5 781.0 L118.5 781.1 L119.5 781.1 L120.5 781.1 L121.5 781.1 L122.5 781.1 L123.5 781.2 L124.5 781.2 L125.5 781.2 L126.5 781.3 L127.5 781.3 L128.5 781.3 L129.5 781.4 L130.5 781.4 L131.5 781.4 L132.5 781.5 L133.5 781.5 L134.5 781.5 L135.5 781.6 L136.5 781.6 L137.5 781.6 L138.5 781.7 L139.5 781.7 L140.5 781.8 L141.5 781.8 L142.5 781.8 L143.5 781.9 L144.5 781.9 L145.5 781.9 L146.5 782.0 L147.5 782.0 L148.5 782.0 L149.5 782.0 L150.5 782.0 L151.5 782.1 L152.5 782.1 L153.5 782.1 L154.5 782.1 L155.5 782.0 L156.5 782.0 L157.5 782.0 L158.5 782.0 L159.5 781.9 L160.5 781.9 L161.5 781.8 L162.5 781.7 L163.5 781.7 L164.5 781.6 L165.5 781.5 L166.5 781.4 L167.5 781.3 L168.5 781.2 L169.5 781.1 L170.5 781.0 L171.5 780.9 L172.5 780.8 L173.5 780.8 L174.5 780.7 L175.5 780.6 L176.5 780.6 L177.5 780.6 L178.5 780.5 L179.5 780.5 L180.5 780.6 L181.5 780.6 L182.5 780.7 L183.5 780.8 L184.5 780.9 L185.5 781.0 L186.5 781.2 L187.5 781.3 L188.5 781.5 L189.5 781.7 L190.5 781.8 L191.5 782.0 L192.5 782.1 L193.5 782.2 L194.5 782.4 L195.5 782.4 L196.5 782.5 L197.5 782.5 L198.5 782.5 L199.5 782.4 L200.5 782.4 L201.5 782.3 L202.5 782.2 L203.5 782.1 L204.5 782.0 L205.5 781.9 L206.5 781.8 L207.5 781.7 L208.5 781.6 L209.5 781.5 L210.5 781.5 L211.5 781.4 L212.5 781.3 L213.5 781.2 L214.5 781.2 L215.5 781.1 L216.5 781.1 L217.5 781.0 L218.5 781.0 L219.5 781.0 L220.5 780.9 L221.5 780.9 L222.5 780.9 L223.5 780.8 L224.5 780.8 L225.5 780.8 L226.5 780.8 L227.5 780.8 L228.5 780.8 L229.5 780.8 L230.5 780.7 L231.5 780.7 L232.5 780.7 L233.5 780.7 L234.5 780.7 L235.5 780.7 L236.5 780.8 L237.5 780.8 L238.5 780.8 L239.5 780.8 L240.5 780.8 L241.5 780.8 L242.5 780.8 L243.5 780.8 L244.5 780.8 L245.5 780.8 L246.5 780.9 L247.5 780.9 L248.5 780.9 L249.5 780.9 L250.5 780.9 L251.5 781.0 L252.5 781.0 L253.5 781.0 L254.5 781.0 L255.5 781.0 L256.5 781.1 L257.5 781.1 L258.5 781.1 L259.5 781.1 L260.5 781.1 L261.5 781.2 L262.5 781.2 L263.5 781.2 L264.5 781.2 L265.5 781.2 L266.5 781.2 L267.5 781.3 L268.5 781.3 L269.5 781.3 L270.5 781.3 L271.5 781.3 L272.5 781.3 L273.5 781.3 L274.5 781.4 L275.5 781.4 L276.5 781.4 L277.5 781.4 L278.5 781.4 L279.5 781.4 L280.5 781.4 L281.5 781.4 L282.5 781.4 L283.5 781.4 L284.5 781.4 L285.5 781.4 L286.5 781.4 L287.5 781.4 L288.5 781.4 L289.5 781.4 L290.5 781.4 L291.5 781.4 L292.5 781.4 L293.5 781.4 L294.5 781.4 L295.5 781.4 L296.5 781.4 L297.5 781.4 L298.5 781.4 L299.5 781.4 L300.5 781.4 L301.5 781.4 L302.5 781.4 L303.5 781.4 L304.5 781.4 L305.5 781.4 L306.5 781.4 L307.5 781.4 L308.5 781.4 L309.5 781.4 L310.5 781.3 L311.5 781.3 L312.5 781.3 L313.5 781.3 L314.5 781.3 L315.5 781.3 L316.5 781.3 L317.5 781.3 L318.5 781.3 L319.5 781.3 L320.5 781.3 L321.5 781.3 L322.5 781.3 L323.5 781.3 L324.5 781.3 L325.5 781.3 L326.5 781.3 L327.5 781.3 L328.5 781.3 L329.5 781.3 L330.5 781.3 L331.5 781.3 L332.5 781.3 L333.5 781.3 L334.5 781.3 L335.5 781.3 L336.5 781.3 L337.5 781.3 L338.5 781.3 L339.5 781.3 L340.5 781.3 L341.5 781.3 L342.5 781.4 L343.5 781.4 L344.5 781.4 L345.5 781.4 L346.5 781.4 L347.5 781.4 L348.5 781.4 L349.5 781.4 L350.5 781.5 L351.5 781.5 L352.5 781.5 L353.5 781.5 L354.5 781.5 L355.5 781.6 L356.5 781.6 L357.5 781.6 L358.5 781.6 L359.5 781.7 L360.5 781.7 L361.5 781.7 L362.5 781.8 L363.5 781.8 L364.5 781.8 L365.5 781.8 L366.5 781.9 L367.5 781.9 L368.5 781.9 L369.5 782.0 L370.5 782.0 L371.5 782.0 L372.5 782.0 L373.5 782.0 L374.5 782.1 L375.5 782.1 L376.5 782.1 L377.5 782.1 L378.5 782.0 L379.5 782.0 L380.5 782.0 L381.5 782.0 L382.5 781.9 L383.5 781.9 L384.5 781.8 L385.5 781.8 L386.5 781.7 L387.5 781.6 L388.5 781.5 L389.5 781.5 L390.5 781.4 L391.5 781.3 L392.5 781.2 L393.5 781.1 L394.5 781.0 L395.5 780.9 L396.5 780.8 L397.5 780.8 L398.5 780.7 L399.5 780.6 L400.5 780.6 L401.5 780.5 L402.5 780.5 L403.5 780.5 L404.5 780.5 L405.5 780.5 L406.5 780.5 L407.5 780.6 L408.5 780.6 L409.5 780.7 L410.5 780.8 L411.5 780.9 L412.5 781.0 L413.5 781.1 L414.5 781.2 L415.5 781.3 L416.5 781.4 L417.5 781.5 L418.5 781.6 L419.5 781.7 L420.5 781.8 L421.5 781.9 L422.5 781.9 L423.5 782.0 L424.5 782.0 L425.5 782.1 L426.5 782.1 L427.5 782.0 L428.5 782.0 L429.5 782.0 L430.5 781.9 L431.5 781.8 L432.5 781.7 L433.5 781.7 L434.5 781.6 L435.5 781.5 L436.5 781.4 L437.5 781.2 L438.5 781.1 L439.5 781.1 L440.5 781.0 L441.5 780.9 L442.5 780.8 L443.5 780.8 L444.5 780.7 L445.5 780.7 L446.5 780.7 L447.5 780.7 L448.5 780.7 L449.5 780.8 L450.5 780.8 L451.5 780.9 L452.5 781.0 L453.5 781.1 L454.5 781.2 L455.5 781.3 L456.5 781.4 L457.5 781.6 L458.5 781.7 L459.5 781.8 L460.5 781.9 L461.5 781.9 L462.5 782.0 L463.5 782.1 L464.5 782.1 L465.5 782.1 L466.5 782.1 L467.5 782.0 L468.5 782.0 L469.5 781.8 L470.5 781.7 L471.5 781.5 L472.5 781.3 L473.5 781.0 L474.5 780.8 L475.5 780.4 L476.5 780.1 L477.5 779.8 L478.5 779.5 L479.5 779.1 L480.5 778.8 L481.5 778.5 L482.5 778.2 L483.5 778.0 L484.5 777.7 L485.5 777.6 L486.5 777.4 L487.5 777.4 L488.5 777.3 L489.5 777.4 L490.5 777.5 L491.5 777.8 L492.5 778.1 L493.5 778.5 L494.5 779.1 L495.5 779.8 L496.5 780.6 L497.5 781.5 L498.5 782.7 L499.5 783.9 L500.5 785.3 L501.5 786.7 L502.5 788.2 L503.5 789.7 L504.5 791.1 L505.5 792.4 L506.5 793.5 L507.5 794.6 L508.5 795.5 L509.5 796.2 L510.5 796.8 L511.5 797.3 L512.5 797.6 L513.5 797.8 L514.5 797.7 L515.5 797.6 L516.5 797.2 L517.5 796.7 L518.5 796.0 L519.5 795.1 L520.5 794.0 L521.5 792.7 L522.5 791.2 L523.5 789.6 L524.5 787.8 L525.5 785.9 L526.5 783.9 L527.5 781.7 L528.5 779.6 L529.5 777.4 L530.5 775.2 L531.5 773.0 L532.5 770.8 L533.5 768.7 L534.5 766.7 L535.5 764.7 L536.5 762.9 L537.5 761.2 L538.5 759.5 L539.5 758.0 L540.5 756.7 L541.5 755.5 L542.5 754.5 L543.5 753.6 L544.5 753.0 L545.5 752.5 L546.5 752.2 L547.5 752.2 L548.5 752.4 L549.5 752.8 L550.5 753.5 L551.5 754.4 L552.5 755.6 L553.5 756.9 L554.5 758.5 L555.5 760.4 L556.5 762.5 L557.5 764.8 L558.5 767.4 L559.5 770.2 L560.5 773.2 L561.5 776.4 L562.5 779.8 L563.5 783.3 L564.5 786.8 L565.5 790.4 L566.5 794.0 L567.5 797.5 L568.5 801.0 L569.5 804.4 L570.5 807.5 L571.5 810.5 L572.5 813.3 L573.5 815.7 L574.5 817.9 L575.5 819.7 L576.5 821.1 L577.5 822.1 L578.5 822.6 L579.5 822.6 L580.5 822.0 L581.5 821.1 L582.5 819.6 L583.5 817.8 L584.5 815.6 L585.5 813.0 L586.5 810.1 L587.5 806.9 L588.5 803.5 L589.5 799.9 L590.5 796.1 L591.5 792.2 L592.5 788.4 L593.5 784.8 L594.5 781.4 L595.5 778.4 L596.5 775.8 L597.5 773.5 L598.5 771.6 L599.5 770.0 L600.5 768.6 L601.5 767.6 L602.5 766.7 L603.5 766.2 L604.5 765.8 L605.5 765.6 L606.5 765.6 L607.5 765.8 L608.5 766.1 L609.5 766.6 L610.5 767.1 L611.5 767.7 L612.5 768.4 L613.5 769.1 L614.5 769.9 L615.5 770.7 L616.5 771.4 L617.5 772.1 L618.5 772.8 L619.5 773.4 L620.5 773.9 L621.5 774.3 L622.5 774.5 L623.5 774.6 L624.5 774.5 L625.5 774.3 L626.5 773.9 L627.5 773.4 L628.5 772.9 L629.5 772.4 L630.5 771.9 L631.5 771.6 L632.5 771.4 L633.5 771.4 L634.5 771.6 L635.5 772.1 L636.5 772.7 L637.5 773.6 L638.5 774.7 L639.5 776.0 L640.5 777.5 L641.5 779.3 L642.5 781.2 L643.5 783.3 L644.5 785.6 L645.5 788.0 L646.5 790.6 L647.5 793.2 L648.5 795.9 L649.5 798.6 L650.5 801.2 L651.5 803.9 L652.5 806.4 L653.5 808.8 L654.5 811.1 L655.5 813.2 L656.5 815.1 L657.5 816.7 L658.5 818.1 L659.5 819.2 L660.5 820.0 L661.5 820.4 L662.5 820.4 L663.5 820.1 L664.5 819.2 L665.5 818.0 L666.5 816.2 L667.5 813.9 L668.5 811.1 L669.5 807.7 L670.5 803.9 L671.5 799.7 L672.5 795.0 L673.5 789.8 L674.5 784.3 L675.5 778.4 L676.5 772.3 L677.5 766.0 L678.5 759.5 L679.5 753.1 L680.5 746.8 L681.5 740.8 L682.5 735.1 L683.5 729.9 L684.5 725.4 L685.5 721.6 L686.5 718.6 L687.5 716.5 L688.5 715.3 L689.5 715.0 L690.5 715.6 L691.5 716.9 L692.5 718.9 L693.5 721.7 L694.5 725.0 L695.5 728.9 L696.5 733.2 L697.5 738.1 L698.5 743.3 L699.5 748.8 L700.5 754.6 L701.5 760.6 L702.5 766.7 L703.5 772.8 L704.5 778.7 L705.5 784.4 L706.5 789.9 L707.5 794.9 L708.5 799.5 L709.5 803.5 L710.5 807.1 L711.5 810.1 L712.5 812.6 L713.5 814.7 L714.5 816.4 L715.5 817.7 L716.5 818.5 L717.5 819.0 L718.5 819.2 L719.5 819.0 L720.5 818.5 L721.5 817.7 L722.5 816.6 L723.5 815.3 L724.5 813.8 L725.5 812.0 L726.5 810.0 L727.5 807.8 L728.5 805.4 L729.5 802.8 L730.5 800.0 L731.5 797.1 L732.5 793.9 L733.5 790.7 L734.5 787.3 L735.5 784.0 L736.5 780.6 L737.5 777.3 L738.5 774.1 L739.5 771.0 L740.5 768.1 L741.5 765.4 L742.5 763.0 L743.5 760.7 L744.5 758.7 L745.5 756.9 L746.5 755.3 L747.5 753.9 L748.5 752.7 L749.5 751.7 L750.5 751.0 L751.5 750.5 L752.5 750.2 L753.5 750.2 L754.5 750.3 L755.5 750.8 L756.5 751.4 L757.5 752.3 L758.5 753.4 L759.5 754.8 L760.5 756.4 L761.5 758.3 L762.5 760.3 L763.5 762.7 L764.5 765.2 L765.5 768.0 L766.5 771.0 L767.5 774.2 L768.5 777.6 L769.5 781.2 L770.5 785.0 L771.5 788.9 L772.5 792.8 L773.5 796.7 L774.5 800.3 L775.5 803.8 L776.5 806.9 L777.5 809.8 L778.5 812.4 L779.5 814.7 L780.5 816.7 L781.5 818.4 L782.5 819.7 L783.5 820.8 L784.5 821.5 L785.5 821.9 L786.5 821.9 L787.5 821.5 L788.5 820.8 L789.5 819.7 L790.5 818.2 L791.5 816.3 L792.5 814.1 L793.5 811.5 L794.5 808.6 L795.5 805.4 L796.5 802.0 L797.5 798.4 L798.5 794.7 L799.5 790.9 L800.5 787.0 L801.5 783.1 L802.5 779.2 L803.5 775.6 L804.5 772.1 L805.5 769.0 L806.5 766.2 L807.5 763.7 L808.5 761.5 L809.5 759.7 L810.5 758.2 L811.5 757.0 L812.5 756.1 L813.5 755.5 L814.5 755.2 L815.5 755.1 L816.5 755.4 L817.5 755.9 L818.5 756.8 L819.5 757.8 L820.5 759.2 L821.5 760.7 L822.5 762.6 L823.5 764.5 L824.5 766.6 L825.5 768.6 L826.5 770.6 L827.5 772.4 L828.5 774.0 L829.5 775.4 L830.5 776.7 L831.5 777.9 L832.5 778.9 L833.5 779.8 L834.5 780.6 L835.5 781.3 L836.5 781.8 L837.5 782.3 L838.5 782.7 L839.5 783.0 L840.5 783.2 L841.5 783.3 L842.5 783.4 L843.5 783.4 L844.5 783.4 L845.5 783.3 L846.5 783.2 L847.5 783.1 L848.5 783.0 L849.5 782.8 L850.5 782.6 L851.5 782.5 L852.5 782.3 L853.5 782.1 L854.5 782.0 L855.5 781.9 L856.5 781.8 L857.5 781.8 L858.5 781.8 L859.5 781.9 L860.5 782.0 L861.5 782.2 L862.5 782.5 L863.5 782.9 L864.5 783.3 L865.5 783.8 L866.5 784.3 L867.5 784.9 L868.5 785.4 L869.5 786.0 L870.5 786.5 L871.5 787.0 L872.5 787.4 L873.5 787.7 L874.5 788.0 L875.5 788.1 L876.5 788.1 L877.5 787.9 L878.5 787.5 L879.5 787.0 L880.5 786.3 L881.5 785.3 L882.5 784.1 L883.5 782.7 L884.5 781.0 L885.5 779.0 L886.5 776.8 L887.5 774.6 L888.5 772.2 L889.5 769.9 L890.5 767.6 L891.5 765.4 L892.5 763.4 L893.5 761.6 L894.5 760.1 L895.5 758.8 L896.5 757.9 L897.5 757.2 L898.5 756.9 L899.5 756.9 L900.5 757.2 L901.5 757.8 L902.5 758.8 L903.5 760.0 L904.5 761.4 L905.5 763.0 L906.5 764.9 L907.5 766.9 L908.5 769.0 L909.5 771.3 L910.5 773.6 L911.5 776.0 L912.5 778.3 L913.5 780.5 L914.5 782.6 L915.5 784.4 L916.5 786.0 L917.5 787.4 L918.5 788.7 L919.5 789.8 L920.5 790.7 L921.5 791.4 L922.5 792.0 L923.5 792.4 L924.5 792.7 L925.5 792.9 L926.5 793.0 L927.5 792.9 L928.5 792.8 L929.5 792.5 L930.5 792.2 L931.5 791.8 L932.5 791.3 L933.5 790.8 L934.5 790.2 L935.5 789.6 L936.5 788.9 L937.5 788.2 L938.5 787.5 L939.5 786.7 L940.5 785.9 L941.5 785.2 L942.5 784.4 L943.5 783.6 L944.5 782.9 L945.5 782.1 L946.5 781.4 L947.5 780.7 L948.5 780.1 L949.5 779.5 L950.5 779.0 L951.5 778.5 L952.5 778.1 L953.5 777.7 L954.5 777.3 L955.5 776.9 L956.5 776.6 L957.5 776.2 L958.5 775.9 L959.5 775.5 L960.5 775.1 L961.5 774.6 L962.5 774.1 L963.5 773.6 L964.5 773.1 L965.5 772.6 L966.5 772.1 L967.5 771.6 L968.5 771.1 L969.5 770.6 L970.5 770.2 L971.5 769.7 L972.5 769.4 L973.5 769.1 L974.5 768.9 L975.5 768.8 L976.5 768.9 L977.5 769.1 L978.5 769.5 L979.5 770.1 L980.5 771.0 L981.5 772.1 L982.5 773.5 L983.5 775.2 L984.0 776.2" stroke="#ff0000" stroke-width="1.2" fill="none" stroke-linejoin="round"/>
<path d="M93.5 966.3 L94.5 964.9 L95.5 963.7 L96.5 962.7 L97.5 961.8 L98.5 961.1 L99.5 960.7 L100.5 960.6 L101.5 960.7 L102.5 961.1 L103.5 961.7 L104.5 962.5 L105.5 963.5 L106.5 964.7 L107.5 966.0 L108.5 967.5 L109.5 969.1 L110.5 970.8 L111.5 972.5 L112.5 974.3 L113.5 976.1 L114.5 977.9 L115.5 979.7 L116.5 981.4 L117.5 983.1 L118.5 984.7 L119.5 986.1 L120.5 987.4 L121.5 988.5 L122.5 989.4 L123.5 990.1 L124.5 990.7 L125.5 991.0 L126.5 991.2 L127.5 991.2 L128.5 991.1 L129.5 990.8 L130.5 990.4 L131.5 989.9 L132.5 989.4 L133.5 988.9 L134.5 988.3 L135.5 987.8 L136.5 987.3 L137.5 986.9 L138.5 986.6 L139.5 986.4 L140.5 986.3 L141.5 986.3 L142.5 986.4 L143.5 986.7 L144.5 987.1 L145.5 987.4 L146.5 987.8 L147.5 988.2 L148.5 988.4 L149.5 988.6 L150.5 988.7 L151.5 988.8 L152.5 988.7 L153.5 988.6 L154.5 988.4 L155.5 988.1 L156.5 987.6 L157.5 987.1 L158.5 986.5 L159.5 985.9 L160.5 985.1 L161.5 984.4 L162.5 983.6 L163.5 982.7 L164.5 981.9 L165.5 981.1 L166.5 980.3 L167.5 979.5 L168.5 978.8 L169.5 978.1 L170.5 977.5 L171.5 977.0 L172.5 976.6 L173.5 976.3 L174.5 976.1 L175.5 976.1 L176.5 976.1 L177.5 976.3 L178.5 976.6 L179.5 977.0 L180.5 977.5 L181.5 978.1 L182.5 978.7 L183.5 979.4 L184.5 980.1 L185.5 980.8 L186.5 981.5 L187.5 982.3 L188.5 983.0 L189.5 983.8 L190.5 984.5 L191.5 985.1 L192.5 985.7 L193.5 986.3 L194.5 986.8 L195.5 987.2 L196.5 987.5 L197.5 987.7 L198.5 987.8 L199.5 987.9 L200.5 987.8 L201.5 987.8 L202.5 987.6 L203.5 987.4 L204.5 987.2 L205.5 986.9 L206.5 986.5 L207.5 986.2 L208.5 985.8 L209.5 985.3 L210.5 984.9 L211.5 984.4 L212.5 984.0 L213.5 983.5 L214.5 983.1 L215.5 982.6 L216.5 982.2 L217.5 981.7 L218.5 981.4 L219.5 981.0 L220.5 980.7 L221.5 980.4 L222.5 980.1 L223.5 980.0 L224.5 979.8 L225.5 979.8 L226.5 979.8 L227.5 979.9 L228.5 980.0 L229.5 980.1 L230.5 980.4 L231.5 980.6 L232.5 980.8 L233.5 981.1 L234.5 981.4 L235.5 981.6 L236.5 981.9 L237.5 982.1 L238.5 982.4 L239.5 982.6 L240.5 982.8 L241.5 983.0 L242.5 983.2 L243.5 983.4 L244.5 983.6 L245.5 983.7 L246.5 983.9 L247.5 984.0 L248.5 984.1 L249.5 984.2 L250.5 984.3 L251.5 984.3 L252.5 984.4 L253.5 984.4 L254.5 984.4 L255.5 984.4 L256.5 984.3 L257.5 984.3 L258.5 984.2 L259.5 984.2 L260.5 984.1 L261.5 984.0 L262.5 983.9 L263.5 983.8 L264.5 983.7 L265.5 983.6 L266.5 983.5 L267.5 983.4 L268.5 983.3 L269.5 983.2 L270.5 983.1 L271.5 983.0 L272.5 982.9 L273.5 982.8 L274.5 982.8 L275.5 982.7 L276.5 982.7 L277.5 982.7 L278.5 982.7 L279.5 982.7 L280.5 982.7 L281.5 982.7 L282.5 982.7 L283.5 982.7 L284.5 982.7 L285.5 982.8 L286.5 982.8 L287.5 982.8 L288.5 982.9 L289.5 982.9 L290.5 983.0 L291.5 983.0 L292.5 983.1 L293.5 983.1 L294.5 983.2 L295.5 983.2 L296.5 983.3 L297.5 983.3 L298.5 983.4 L299.5 983.4 L300.5 983.4 L301.5 983.5 L302.5 983.5 L303.5 983.5 L304.5 983.6 L305.5 983.6 L306.5 983.6 L307.5 983.6 L308.5 983.6 L309.5 983.6 L310.5 983.5 L311.5 983.5 L312.5 983.4 L313.5 983.4 L314.5 983.3 L315.5 983.2 L316.5 983.1 L317.5 983.0 L318.5 982.9 L319.5 982.8 L320.5 982.6 L321.5 982.5 L322.5 982.3 L323.5 982.1 L324.5 981.9 L325.5 981.6 L326.5 981.4 L327.5 981.1 L328.5 980.8 L329.5 980.5 L330.5 980.2 L331.5 979.8 L332.5 979.5 L333.5 979.1 L334.5 978.6 L335.5 978.2 L336.5 977.8 L337.5 977.4 L338.5 976.9 L339.5 976.6 L340.5 976.2 L341.5 975.9 L342.5 975.7 L343.5 975.5 L344.5 975.4 L345.5 975.3 L346.5 975.4 L347.5 975.6 L348.5 975.9 L349.5 976.3 L350.5 976.8 L351.5 977.5 L352.5 978.3 L353.5 979.3 L354.5 980.5 L355.5 981.7 L356.5 983.1 L357.5 984.6 L358.5 986.1 L359.5 987.7 L360.5 989.4 L361.5 991.0 L362.5 992.7 L363.5 994.3 L364.5 995.9 L365.5 997.4 L366.5 998.9 L367.5 1000.3 L368.5 1001.5 L369.5 1002.6 L370.5 1003.6 L371.5 1004.4 L372.5 1005.0 L373.5 1005.5 L374.5 1005.7 L375.5 1005.8 L376.5 1005.6 L377.5 1005.2 L378.5 1004.6 L379.5 1003.8 L380.5 1002.7 L381.5 1001.4 L382.5 999.8 L383.5 998.0 L384.5 995.9 L385.5 993.5 L386.5 990.8 L387.5 987.9 L388.5 984.8 L389.5 981.5 L390.5 978.1 L391.5 974.6 L392.5 970.9 L393.5 967.2 L394.5 963.5 L395.5 959.9 L396.5 956.2 L397.5 952.7 L398.5 949.2 L399.5 945.9 L400.5 942.9 L401.5 940.2 L402.5 937.9 L403.5 936.3 L404.5 935.3 L405.5 935.2 L406.5 935.8 L407.5 937.2 L408.5 939.2 L409.5 941.8 L410.5 944.8 L411.5 948.2 L412.5 951.9 L413.5 955.7 L414.5 959.7 L415.5 963.8 L416.5 968.0 L417.5 972.2 L418.5 976.5 L419.5 980.8 L420.5 985.1 L421.5 989.2 L422.5 993.1 L423.5 996.7 L424.5 999.9 L425.5 1002.7 L426.5 1004.9 L427.5 1006.7 L428.5 1007.8 L429.5 1008.2 L430.5 1007.9 L431.5 1007.0 L432.5 1005.6 L433.5 1003.9 L434.5 1002.0 L435.5 1000.0 L436.5 997.8 L437.5 995.6 L438.5 993.3 L439.5 991.0 L440.5 988.7 L441.5 986.5 L442.5 984.4 L443.5 982.4 L444.5 980.6 L445.5 979.0 L446.5 977.6 L447.5 976.4 L448.5 975.5 L449.5 974.8 L450.5 974.3 L451.5 974.1 L452.5 974.0 L453.5 974.0 L454.5 974.3 L455.5 974.6 L456.5 975.1 L457.5 975.6 L458.5 976.3 L459.5 977.0 L460.5 977.8 L461.5 978.6 L462.5 979.4 L463.5 980.2 L464.5 981.0 L465.5 981.8 L466.5 982.6 L467.5 983.3 L468.5 983.9 L469.5 984.5 L470.5 985.1 L471.5 985.5 L472.5 986.0 L473.5 986.4 L474.5 986.7 L475.5 987.0 L476.5 987.3 L477.5 987.5 L478.5 987.6 L479.5 987.7 L480.5 987.8 L481.5 987.8 L482.5 987.7 L483.5 987.6 L484.5 987.5 L485.5 987.3 L486.5 987.1 L487.5 986.8 L488.5 986.4 L489.5 986.1 L490.5 985.6 L491.5 985.2 L492.5 984.7 L493.5 984.2 L494.5 983.8 L495.5 983.3 L496.5 982.9 L497.5 982.5 L498.5 982.1 L499.5 981.8 L500.5 981.5 L501.5 981.2 L502.5 981.0 L503.5 980.9 L504.5 980.8 L505.5 980.7 L506.5 980.6 L507.5 980.6 L508.5 980.6 L509.5 980.6 L510.5 980.6 L511.5 980.7 L512.5 980.8 L513.5 980.9 L514.5 981.1 L515.5 981.2 L516.5 981.4 L517.5 981.6 L518.5 981.8 L519.5 982.0 L520.5 982.2 L521.5 982.4 L522.5 982.7 L523.5 982.9 L524.5 983.1 L525.5 983.4 L526.5 983.6 L527.5 983.9 L528.5 984.1 L529.5 984.3 L530.5 984.5 L531.5 984.8 L532.5 984.9 L533.5 985.1 L534.5 985.3 L535.5 985.4 L536.5 985.4 L537.5 985.4 L538.5 985.4 L539.5 985.2 L540.5 985.0 L541.5 984.7 L542.5 984.4 L543.5 983.9 L544.5 983.3 L545.5 982.7 L546.5 982.0 L547.5 981.3 L548.5 980.6 L549.5 980.0 L550.5 979.3 L551.5 978.8 L552.5 978.3 L553.5 977.9 L554.5 977.6 L555.5 977.3 L556.5 977.1 L557.5 977.0 L558.5 977.0 L559.5 977.1 L560.5 977.3 L561.5 977.5 L562.5 977.9 L563.5 978.3 L564.5 978.9 L565.5 979.5 L566.5 980.3 L567.5 981.1 L568.5 982.0 L569.5 983.0 L570.5 984.0 L571.5 985.0 L572.5 986.0 L573.5 987.0 L574.5 987.9 L575.5 988.8 L576.5 989.6 L577.5 990.3 L578.5 990.9 L579.5 991.4 L580.5 991.8 L581.5 992.1 L582.5 992.2 L583.5 992.3 L584.5 992.2 L585.5 992.1 L586.5 991.8 L587.5 991.5 L588.5 991.0 L589.5 990.5 L590.5 989.9 L591.5 989.2 L592.5 988.5 L593.5 987.7 L594.5 986.8 L595.5 985.8 L596.5 984.8 L597.5 983.8 L598.5 982.7 L599.5 981.5 L600.5 980.3 L601.5 978.9 L602.5 977.5 L603.5 976.0 L604.5 974.4 L605.5 972.6 L606.5 970.7 L607.5 968.7 L608.5 966.7 L609.5 964.8 L610.5 963.1 L611.5 961.6 L612.5 960.5 L613.5 959.8 L614.5 959.6 L615.5 959.9 L616.5 960.8 L617.5 962.1 L618.5 963.8 L619.5 965.6 L620.5 967.7 L621.5 969.8 L622.5 972.0 L623.5 974.1 L624.5 976.2 L625.5 978.1 L626.5 979.9 L627.5 981.6 L628.5 983.1 L629.5 984.7 L630.5 986.3 L631.5 988.0 L632.5 989.8 L633.5 991.8 L634.5 994.0 L635.5 996.5 L636.5 999.3 L637.5 1002.2 L638.5 1005.2 L639.5 1008.3 L640.5 1011.3 L641.5 1014.2 L642.5 1016.9 L643.5 1019.3 L644.5 1021.3 L645.5 1022.8 L646.5 1023.9 L647.5 1024.3 L648.5 1024.2 L649.5 1023.4 L650.5 1022.2 L651.5 1020.5 L652.5 1018.3 L653.5 1015.8 L654.5 1013.0 L655.5 1009.9 L656.5 1006.6 L657.5 1003.1 L658.5 999.5 L659.5 995.9 L660.5 992.2 L661.5 988.5 L662.5 984.8 L663.5 981.1 L664.5 977.5 L665.5 973.8 L666.5 970.2 L667.5 966.6 L668.5 963.0 L669.5 959.3 L670.5 955.8 L671.5 952.2 L672.5 948.6 L673.5 945.0 L674.5 941.5 L675.5 938.0 L676.5 934.6 L677.5 931.3 L678.5 928.2 L679.5 925.3 L680.5 922.6 L681.5 920.2 L682.5 918.2 L683.5 916.4 L684.5 915.1 L685.5 914.1 L686.5 913.6 L687.5 913.7 L688.5 914.2 L689.5 915.3 L690.5 917.1 L691.5 919.4 L692.5 922.5 L693.5 926.1 L694.5 930.3 L695.5 934.8 L696.5 939.7 L697.5 944.7 L698.5 949.8 L699.5 955.0 L700.5 960.0 L701.5 965.0 L702.5 969.9 L703.5 974.8 L704.5 979.8 L705.5 984.9 L706.5 990.1 L707.5 995.3 L708.5 1000.6 L709.5 1006.0 L710.5 1011.3 L711.5 1016.7 L712.5 1022.0 L713.5 1027.2 L714.5 1032.2 L715.5 1036.7 L716.5 1040.8 L717.5 1044.2 L718.5 1046.9 L719.5 1048.9 L720.5 1050.0 L721.5 1050.2 L722.5 1049.5 L723.5 1048.0 L724.5 1045.7 L725.5 1042.9 L726.5 1039.5 L727.5 1035.7 L728.5 1031.6 L729.5 1027.2 L730.5 1022.7 L731.5 1018.1 L732.5 1013.5 L733.5 1009.0 L734.5 1004.6 L735.5 1000.4 L736.5 996.3 L737.5 992.4 L738.5 988.7 L739.5 985.3 L740.5 982.1 L741.5 979.1 L742.5 976.4 L743.5 974.0 L744.5 971.8 L745.5 969.9 L746.5 968.2 L747.5 966.7 L748.5 965.5 L749.5 964.4 L750.5 963.6 L751.5 962.9 L752.5 962.5 L753.5 962.2 L754.5 962.1 L755.5 962.2 L756.5 962.4 L757.5 962.7 L758.5 963.2 L759.5 963.8 L760.5 964.5 L761.5 965.3 L762.5 966.1 L763.5 967.1 L764.5 968.1 L765.5 969.2 L766.5 970.3 L767.5 971.5 L768.5 972.7 L769.5 973.9 L770.5 975.1 L771.5 976.3 L772.5 977.5 L773.5 978.7 L774.5 979.8 L775.5 980.9 L776.5 982.0 L777.5 983.0 L778.5 984.0 L779.5 984.9 L780.5 985.7 L781.5 986.5 L782.5 987.1 L783.5 987.7 L784.5 988.2 L785.5 988.7 L786.5 989.0 L787.5 989.2 L788.5 989.3 L789.5 989.3 L790.5 989.1 L791.5 988.9 L792.5 988.5 L793.5 988.1 L794.5 987.6 L795.5 987.1 L796.5 986.5 L797.5 985.9 L798.5 985.3 L799.5 984.7 L800.5 984.1 L801.5 983.5 L802.5 983.0 L803.5 982.6 L804.5 982.2 L805.5 981.8 L806.5 981.5 L807.5 981.2 L808.5 981.0 L809.5 980.8 L810.5 980.7 L811.5 980.6 L812.5 980.5 L813.5 980.4 L814.5 980.3 L815.5 980.3 L816.5 980.3 L817.5 980.3 L818.5 980.4 L819.5 980.4 L820.5 980.6 L821.5 980.7 L822.5 980.9 L823.5 981.2 L824.5 981.5 L825.5 981.9 L826.5 982.4 L827.5 982.9 L828.5 983.5 L829.5 984.2 L830.5 984.9 L831.5 985.8 L832.5 986.7 L833.5 987.8 L834.5 988.9 L835.5 990.1 L836.5 991.4 L837.5 992.6 L838.5 993.8 L839.5 995.0 L840.5 995.9 L841.5 996.8 L842.5 997.4 L843.5 997.7 L844.5 997.7 L845.5 997.4 L846.5 996.9 L847.5 996.1 L848.5 995.1 L849.5 994.0 L850.5 992.8 L851.5 991.5 L852.5 990.1 L853.5 988.6 L854.5 987.0 L855.5 985.2 L856.5 983.3 L857.5 981.0 L858.5 978.3 L859.5 975.2 L860.5 971.8 L861.5 968.4 L862.5 964.9 L863.5 961.5 L864.5 958.3 L865.5 955.2 L866.5 952.3 L867.5 949.6 L868.5 947.2 L869.5 945.1 L870.5 943.3 L871.5 942.0 L872.5 941.0 L873.5 940.5 L874.5 940.5 L875.5 941.1 L876.5 942.2 L877.5 944.0 L878.5 946.3 L879.5 949.3 L880.5 952.8 L881.5 956.5 L882.5 960.4 L883.5 964.2 L884.5 967.8 L885.5 971.1 L886.5 973.8 L887.5 976.2 L888.5 978.4 L889.5 980.6 L890.5 982.9 L891.5 985.0 L892.5 987.2 L893.5 989.2 L894.5 991.1 L895.5 992.8 L896.5 994.4 L897.5 995.8 L898.5 997.0 L899.5 997.9 L900.5 998.6 L901.5 998.9 L902.5 999.0 L903.5 998.8 L904.5 998.3 L905.5 997.7 L906.5 996.9 L907.5 996.1 L908.5 995.1 L909.5 994.2 L910.5 993.3 L911.5 992.4 L912.5 991.7 L913.5 991.1 L914.5 990.6 L915.5 990.4 L916.5 990.3 L917.5 990.2 L918.5 990.3 L919.5 990.4 L920.5 990.6 L921.5 990.8 L922.5 990.9 L923.5 991.1 L924.5 991.2 L925.5 991.3 L926.5 991.4 L927.5 991.4 L928.5 991.4 L929.5 991.4 L930.5 991.3 L931.5 991.2 L932.5 991.0 L933.5 990.7 L934.5 990.4 L935.5 990.0 L936.5 989.6 L937.5 989.0 L938.5 988.4 L939.5 987.7 L940.5 986.9 L941.5 986.0 L942.5 985.0 L943.5 983.8 L944.5 982.6 L945.5 981.3 L946.5 979.8 L947.5 978.4 L948.5 976.8 L949.5 975.3 L950.5 973.7 L951.5 972.1 L952.5 970.6 L953.5 969.1 L954.5 967.7 L955.5 966.3 L956.5 965.0 L957.5 963.9 L958.5 962.8 L959.5 962.0 L960.5 961.2 L961.5 960.6 L962.5 960.2 L963.5 959.9 L964.5 959.8 L965.5 959.8 L966.5 960.1 L967.5 960.5 L968.5 961.1 L969.5 961.9 L970.5 962.9 L971.5 964.1 L972.5 965.3 L973.5 966.6 L974.5 967.9 L975.5 969.2 L976.5 970.4 L977.5 971.6 L978.5 972.6 L979.5 973.4 L980.5 974.0 L981.5 974.3 L982.5 974.4 L983.5 974.1 L984.0 973.8" stroke="#ff0000" stroke-width="1.2" fill="none" stroke-linejoin="round"/>
<path d="M241.83 651.7 v6.3 M241.83 1108.2 v-6.3 M390.27 651.7 v6.3 M390.27 1108.2 v-6.3 M538.70 651.7 v6.3 M538.70 1108.2 v-6.3 M687.13 651.7 v6.3 M687.13 1108.2 v-6.3 M835.57 651.7 v6.3 M835.57 1108.2 v-6.3 M93.4 716.9 h9.5 M984.0 716.9 h-9.5 M93.4 781.9 h9.5 M984.0 781.9 h-9.5 M93.4 847.0 h9.5 M984.0 847.0 h-9.5 M93.4 912.3 h9.5 M984.0 912.3 h-9.5 M93.4 977.4 h9.5 M984.0 977.4 h-9.5 M93.4 1042.6 h9.5 M984.0 1042.6 h-9.5" stroke="#222" stroke-width="1" fill="none"/>
<rect x="93.4" y="651.7" width="890.60" height="456.50" fill="none" stroke="#222" stroke-width="1.3"/>
<rect x="93" y="1246" width="891" height="72.6" fill="#fff" stroke="#1c1c1c" stroke-width="1.7"/>
<path d="M103 1285 H155.8" stroke="#000" stroke-width="1.8"/>
<path d="M285 1285 H337.6" stroke="#ff0000" stroke-width="1.9"/>
<path d="M504.9 1284.7 H561" stroke="#bcbcbc" stroke-width="4.3" stroke-dasharray="11.2 11.1"/>
<rect x="731.2" y="1270" width="52.6" height="30" fill="#d9d9d9"/>
<g stroke="#000" stroke-width="0.45" stroke-linejoin="round">
<text id="la" x="4.34" y="15.9" font-size="30" font-weight="bold" stroke-width="0.15" textLength="15.37" lengthAdjust="spacingAndGlyphs" transform="rotate(0.03 12.0 15.9)">a</text>
<text id="e1" x="70.99" y="27.7" font-size="30" textLength="32.15" lengthAdjust="spacingAndGlyphs" transform="rotate(0.03 87.1 27.7)">1e</text>
<text id="e2" x="102.75" y="18.5" font-size="18" textLength="24.71" lengthAdjust="spacingAndGlyphs" transform="rotate(0.03 115.1 18.5)">-10</text>
<text id="lb" x="5.16" y="626.0" font-size="30" font-weight="bold" stroke-width="0.15" textLength="17.95" lengthAdjust="spacingAndGlyphs" transform="rotate(0.03 14.1 626.0)">b</text>
<text id="xla" x="284.18" y="588.8" font-size="30" textLength="564.53" lengthAdjust="spacingAndGlyphs" transform="rotate(0.03 566.4 588.8)">Time relative to the main PP/SS phases (s)</text>
<text id="xlb" x="284.16" y="1200.0" font-size="30" textLength="564.53" lengthAdjust="spacingAndGlyphs" transform="rotate(0.03 566.4 1200.0)">Time relative to the main PP/SS phases (s)</text>
<text id="va" x="117.94" y="149.0" font-size="30" textLength="161.59" lengthAdjust="spacingAndGlyphs" transform="rotate(0.03 198.7 149.0)">vertical (PP)</text>
<text id="ta" x="119.08" y="421.8" font-size="30" textLength="196.27" lengthAdjust="spacingAndGlyphs" transform="rotate(0.03 217.2 421.8)">tangential (SS)</text>
<text id="vb" x="108.94" y="760.8" font-size="30" textLength="161.70" lengthAdjust="spacingAndGlyphs" transform="rotate(0.03 189.8 760.8)">vertical (PP)</text>
<text id="tb" x="108.83" y="1030.4" font-size="30" textLength="196.36" lengthAdjust="spacingAndGlyphs" transform="rotate(0.03 207.0 1030.4)">tangential (SS)</text>
<text id="n1" x="486.86" y="739.5" font-size="27" textLength="134.02" lengthAdjust="spacingAndGlyphs" transform="rotate(0.03 553.9 739.5)">10.2 ± 0.2 s</text>
<text id="n2" x="342.38" y="921.4" font-size="27" textLength="134.55" lengthAdjust="spacingAndGlyphs" transform="rotate(0.03 409.7 921.4)">19.3 ± 0.5 s</text>
<text id="g1" x="164.65" y="1292.0" font-size="26" textLength="98.10" lengthAdjust="spacingAndGlyphs" transform="rotate(0.03 213.7 1292.0)">raw data</text>
<text id="g2" x="348.36" y="1276.8" font-size="26" textLength="132.80" lengthAdjust="spacingAndGlyphs" transform="rotate(0.03 414.8 1276.8)">polorization</text>
<text id="g3" x="349.51" y="1308.0" font-size="26" textLength="132.83" lengthAdjust="spacingAndGlyphs" transform="rotate(0.03 415.9 1308.0)">filtered data</text>
<text id="g4" x="573.69" y="1276.7" font-size="26" textLength="136.64" lengthAdjust="spacingAndGlyphs" transform="rotate(0.03 642.0 1276.7)">arrival picks</text>
<text id="g5" x="575.25" y="1307.8" font-size="26" textLength="116.46" lengthAdjust="spacingAndGlyphs" transform="rotate(0.03 633.5 1307.8)">from MQS</text>
<text id="g6" x="796.84" y="1273.8" font-size="26" textLength="179.92" lengthAdjust="spacingAndGlyphs" transform="rotate(0.03 886.8 1273.8)">auto-correlation</text>
<text id="g7" x="796.93" y="1304.6" font-size="26" textLength="115.65" lengthAdjust="spacingAndGlyphs" transform="rotate(0.03 854.8 1304.6)">coefficient</text>
<text id="xa0" x="64.88" y="540.4" font-size="31" stroke-width="0.3" textLength="43.79" lengthAdjust="spacingAndGlyphs" transform="rotate(0.03 86.8 540.4)">-40</text>
<text id="xb0" x="64.84" y="1150.2" font-size="31" stroke-width="0.3" textLength="43.81" lengthAdjust="spacingAndGlyphs" transform="rotate(0.03 86.7 1150.2)">-40</text>
<text id="xa1" x="218.61" y="540.4" font-size="31" stroke-width="0.3" textLength="43.33" lengthAdjust="spacingAndGlyphs" transform="rotate(0.03 240.3 540.4)">-30</text>
<text id="xb1" x="218.60" y="1150.2" font-size="31" stroke-width="0.3" textLength="43.31" lengthAdjust="spacingAndGlyphs" transform="rotate(0.03 240.3 1150.2)">-30</text>
<text id="xa2" x="364.12" y="540.4" font-size="31" stroke-width="0.3" textLength="43.57" lengthAdjust="spacingAndGlyphs" transform="rotate(0.03 385.9 540.4)">-20</text>
<text id="xb2" x="364.12" y="1150.2" font-size="31" stroke-width="0.3" textLength="43.56" lengthAdjust="spacingAndGlyphs" transform="rotate(0.03 385.9 1150.2)">-20</text>
<text id="xa3" x="508.68" y="540.4" font-size="31" stroke-width="0.3" textLength="44.01" lengthAdjust="spacingAndGlyphs" transform="rotate(0.03 530.7 540.4)">-10</text>
<text id="xb3" x="508.64" y="1150.2" font-size="31" stroke-width="0.3" textLength="44.03" lengthAdjust="spacingAndGlyphs" transform="rotate(0.03 530.7 1150.2)">-10</text>
<text id="xa4" x="679.69" y="540.4" font-size="31" stroke-width="0.3" textLength="17.16" lengthAdjust="spacingAndGlyphs" transform="rotate(0.03 688.3 540.4)">0</text>
<text id="xb4" x="679.69" y="1150.2" font-size="31" stroke-width="0.3" textLength="17.15" lengthAdjust="spacingAndGlyphs" transform="rotate(0.03 688.3 1150.2)">0</text>
<text id="xa5" x="815.63" y="540.4" font-size="31" stroke-width="0.3" transform="rotate(0.03 825.6 540.4)">10</text>
<text id="xb5" x="815.63" y="1150.2" font-size="31" stroke-width="0.3" transform="rotate(0.03 825.6 1150.2)">10</text>
<text id="xa6" x="967.46" y="540.4" font-size="31" stroke-width="0.3" transform="rotate(0.03 977.5 540.4)">20</text>
<text id="xb6" x="967.46" y="1150.2" font-size="31" stroke-width="0.3" transform="rotate(0.03 977.5 1150.2)">20</text>
<text id="ya0" x="65.66" y="119.6" font-size="31" stroke-width="0.3" textLength="17.86" lengthAdjust="spacingAndGlyphs" transform="rotate(0.03 74.6 119.6)">5</text>
<text id="ya1" x="67.90" y="184.4" font-size="31" stroke-width="0.3" textLength="17.05" lengthAdjust="spacingAndGlyphs" transform="rotate(0.03 76.4 184.4)">0</text>
<text id="ya2" x="56.69" y="250.6" font-size="31" stroke-width="0.3" textLength="26.82" lengthAdjust="spacingAndGlyphs" transform="rotate(0.03 70.1 250.6)">-5</text>
<text id="ya3" x="66.00" y="313.7" font-size="31" stroke-width="0.3" textLength="17.61" lengthAdjust="spacingAndGlyphs" transform="rotate(0.03 74.8 313.7)">5</text>
<text id="ya4" x="67.91" y="377.9" font-size="31" stroke-width="0.3" textLength="16.81" lengthAdjust="spacingAndGlyphs" transform="rotate(0.03 76.3 377.9)">0</text>
<text id="ya5" x="56.69" y="444.5" font-size="31" stroke-width="0.3" textLength="26.82" lengthAdjust="spacingAndGlyphs" transform="rotate(0.03 70.1 444.5)">-5</text>
<text id="yb0" x="67.58" y="726.8" font-size="31" stroke-width="0.3" transform="rotate(0.03 77.6 726.8)">1</text>
<text id="yb1" x="65.66" y="791.3" font-size="31" stroke-width="0.3" textLength="17.73" lengthAdjust="spacingAndGlyphs" transform="rotate(0.03 74.5 791.3)">0</text>
<text id="yb2" x="54.57" y="857.6" font-size="31" stroke-width="0.3" transform="rotate(0.03 64.6 857.6)">-<tspan dx="1.9">1</tspan></text>
<text id="yb3" x="67.58" y="921.2" font-size="31" stroke-width="0.3" transform="rotate(0.03 77.6 921.2)">1</text>
<text id="yb4" x="65.64" y="985.9" font-size="31" stroke-width="0.3" textLength="17.75" lengthAdjust="spacingAndGlyphs" transform="rotate(0.03 74.5 985.9)">0</text>
<text id="yb5" x="54.57" y="1052.0" font-size="31" stroke-width="0.3" transform="rotate(0.03 64.6 1052.0)">-<tspan dx="1.9">1</tspan></text>
<text id="yla" transform="translate(22.4 267.3) rotate(-90)" font-size="30" text-anchor="middle" textLength="185.50" lengthAdjust="spacingAndGlyphs">Amplitude (m)</text>
<text id="ylb" transform="translate(21.9 880.9) rotate(-90)" font-size="30" text-anchor="middle" textLength="284.80" lengthAdjust="spacingAndGlyphs">Normalized amplitude</text>
</g>
</svg>
</body></html>
